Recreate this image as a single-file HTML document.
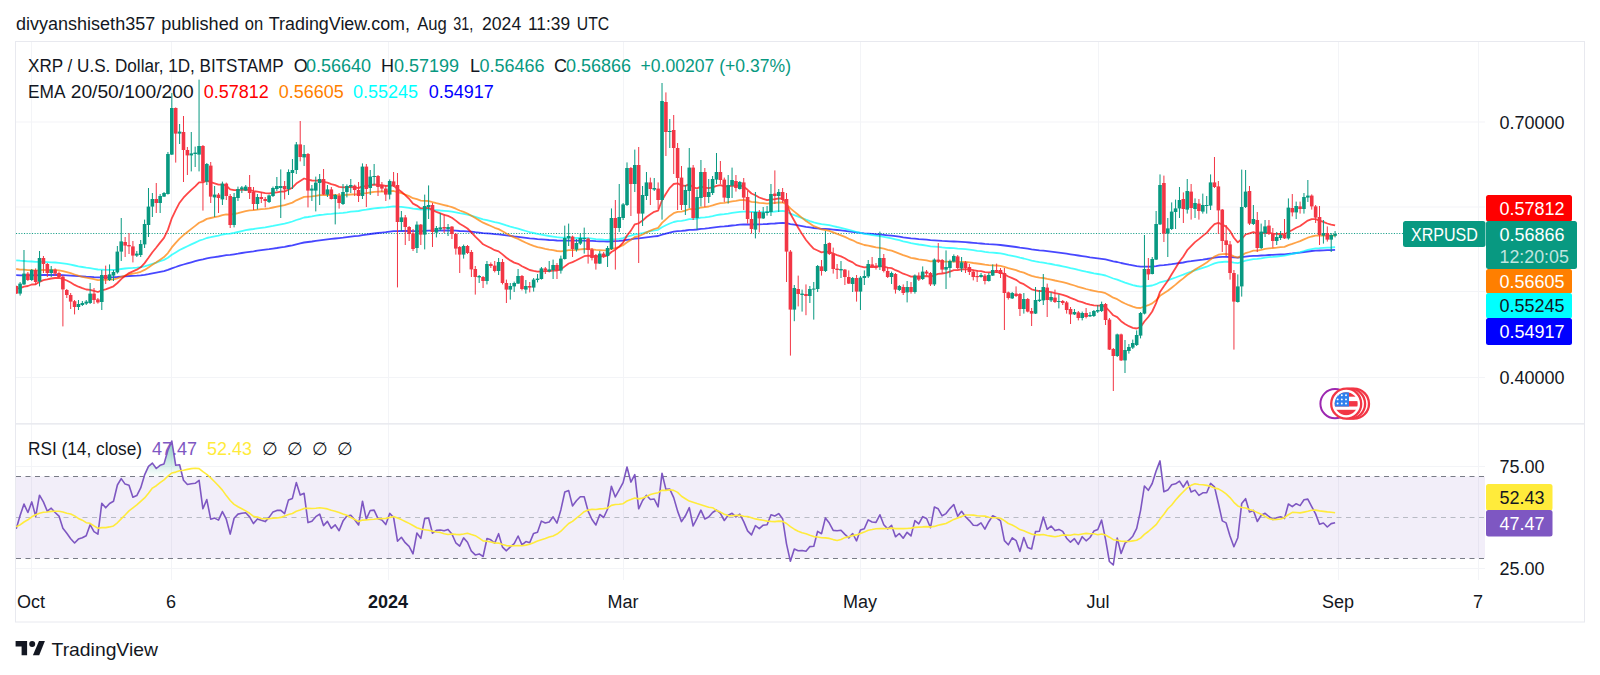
<!DOCTYPE html><html><head><meta charset="utf-8"><title>XRPUSD chart</title><style>html,body{margin:0;padding:0;background:#fff}svg{display:block}</style></head><body><svg width="1600" height="675" viewBox="0 0 1600 675" style="font-family:'Liberation Sans',Arial,sans-serif">
<rect width="1600" height="675" fill="#fff"/>
<defs><clipPath id="cp"><rect x="16" y="42" width="1469" height="382"/></clipPath><clipPath id="cr"><rect x="16" y="425" width="1469" height="155"/></clipPath><linearGradient id="ob" x1="0" y1="0" x2="0" y2="1"><stop offset="0" stop-color="#089981" stop-opacity="0.55"/><stop offset="1" stop-color="#089981" stop-opacity="0.02"/></linearGradient></defs>
<rect x="31.0" y="42" width="1" height="538" fill="#f3f4f7"/>
<rect x="171.0" y="42" width="1" height="538" fill="#f3f4f7"/>
<rect x="388.0" y="42" width="1" height="538" fill="#f3f4f7"/>
<rect x="623.0" y="42" width="1" height="538" fill="#f3f4f7"/>
<rect x="860.0" y="42" width="1" height="538" fill="#f3f4f7"/>
<rect x="1098.0" y="42" width="1" height="538" fill="#f3f4f7"/>
<rect x="1338.0" y="42" width="1" height="538" fill="#f3f4f7"/>
<rect x="1478.0" y="42" width="1" height="538" fill="#f3f4f7"/>
<rect x="16" y="121.5" width="1469" height="1" fill="#f3f4f7"/>
<rect x="16" y="206.5" width="1469" height="1" fill="#f3f4f7"/>
<rect x="16" y="291.0" width="1469" height="1" fill="#f3f4f7"/>
<rect x="16" y="377.0" width="1469" height="1" fill="#f3f4f7"/>
<rect x="16" y="466.0" width="1469" height="1" fill="#f3f4f7"/>
<rect x="16" y="568.0" width="1469" height="1" fill="#f3f4f7"/>
<rect x="16" y="476.5" width="1469" height="82" fill="#7e57c2" fill-opacity="0.1"/>
<line x1="16" y1="476.5" x2="1485" y2="476.5" stroke="#787b86" stroke-width="1" stroke-dasharray="5 4.5"/>
<line x1="16" y1="517.5" x2="1485" y2="517.5" stroke="#b8bbc4" stroke-width="1" stroke-dasharray="5 4.5"/>
<line x1="16" y1="558.5" x2="1485" y2="558.5" stroke="#787b86" stroke-width="1" stroke-dasharray="5 4.5"/>
<line x1="16" y1="233.5" x2="1485" y2="233.5" stroke="#089981" stroke-width="1" stroke-opacity="0.95" stroke-dasharray="1.1 1.56"/>
<g clip-path="url(#cp)">
<polyline points="16.2,275.2 20.1,275.3 24.0,275.3 27.9,275.3 31.8,275.2 35.7,275.3 39.5,275.1 43.4,275.0 47.3,275.0 51.2,275.0 55.1,274.9 59.0,275.0 62.9,275.1 66.8,275.3 70.7,275.6 74.6,275.9 78.4,276.2 82.3,276.4 86.2,276.7 90.1,276.8 94.0,277.1 97.9,277.3 101.8,277.3 105.7,277.3 109.6,277.3 113.5,277.2 117.4,277.0 121.2,276.6 125.1,276.3 129.0,276.0 132.9,275.8 136.8,275.6 140.7,275.3 144.6,274.8 148.5,274.1 152.4,273.3 156.3,272.6 160.1,271.9 164.0,271.1 167.9,269.9 171.8,268.3 175.7,267.0 179.6,265.6 183.5,264.5 187.4,263.4 191.3,262.3 195.2,261.2 199.1,260.1 202.9,259.3 206.8,258.3 210.7,257.7 214.6,257.1 218.5,256.5 222.4,255.8 226.3,255.2 230.2,254.9 234.1,254.3 238.0,253.7 241.8,253.0 245.7,252.3 249.6,251.8 253.5,251.3 257.4,250.7 261.3,250.2 265.2,249.7 269.1,249.2 273.0,248.6 276.9,248.0 280.8,247.3 284.6,246.8 288.5,246.0 292.4,245.3 296.3,244.3 300.2,243.4 304.1,242.5 308.0,242.0 311.9,241.5 315.8,240.9 319.7,240.3 323.5,239.8 327.4,239.3 331.3,238.9 335.2,238.5 339.1,238.1 343.0,237.7 346.9,237.1 350.8,236.6 354.7,236.2 358.6,235.8 362.5,235.1 366.3,234.6 370.2,234.0 374.1,233.5 378.0,233.0 381.9,232.6 385.8,232.2 389.7,231.7 393.6,231.2 397.5,231.1 401.4,231.0 405.2,230.9 409.1,231.0 413.0,231.2 416.9,231.1 420.8,231.1 424.7,230.9 428.6,230.6 432.5,230.6 436.4,230.6 440.3,230.6 444.2,230.5 448.0,230.5 451.9,230.5 455.8,230.7 459.7,231.0 463.6,231.1 467.5,231.3 471.4,231.7 475.3,232.2 479.2,232.6 483.1,233.1 487.0,233.4 490.8,233.7 494.7,234.1 498.6,234.4 502.5,234.8 506.4,235.4 510.3,235.9 514.2,236.4 518.1,236.8 522.0,237.3 525.9,237.8 529.7,238.3 533.6,238.7 537.5,239.1 541.4,239.4 545.3,239.7 549.2,240.0 553.1,240.2 557.0,240.5 560.9,240.7 564.8,240.7 568.7,240.6 572.5,240.7 576.4,240.7 580.3,240.7 584.2,240.7 588.1,240.8 592.0,240.9 595.9,241.2 599.8,241.3 603.7,241.4 607.6,241.5 611.4,241.3 615.3,241.1 619.2,240.9 623.1,240.5 627.0,239.8 630.9,239.3 634.8,238.5 638.7,238.3 642.6,237.8 646.5,237.3 650.4,236.8 654.2,236.3 658.1,236.0 662.0,234.6 665.9,233.6 669.8,232.6 673.7,231.7 677.6,231.2 681.5,230.9 685.4,230.5 689.3,229.9 693.1,229.8 697.0,229.5 700.9,228.9 704.8,228.6 708.7,228.2 712.6,227.7 716.5,227.2 720.4,226.7 724.3,226.4 728.2,226.0 732.1,225.5 735.9,225.2 739.8,224.7 743.7,224.5 747.6,224.4 751.5,224.5 755.4,224.3 759.3,224.3 763.2,224.2 767.1,224.0 771.0,223.7 774.8,223.5 778.7,223.1 782.6,222.9 786.5,223.2 790.4,224.1 794.3,224.7 798.2,225.4 802.1,226.1 806.0,226.8 809.9,227.4 813.8,228.0 817.6,228.4 821.5,228.8 825.4,228.9 829.3,229.2 833.2,229.6 837.1,230.0 841.0,230.4 844.9,230.8 848.8,231.4 852.7,231.8 856.5,232.4 860.4,232.9 864.3,233.3 868.2,233.6 872.1,233.9 876.0,234.3 879.9,234.5 883.8,234.9 887.7,235.3 891.6,235.7 895.5,236.2 899.3,236.7 903.2,237.3 907.1,237.8 911.0,238.3 914.9,238.7 918.8,239.1 922.7,239.4 926.6,239.7 930.5,240.2 934.4,240.4 938.2,240.6 942.1,240.9 946.0,241.1 949.9,241.3 953.8,241.5 957.7,241.7 961.6,241.9 965.5,242.2 969.4,242.5 973.3,242.8 977.2,243.2 981.0,243.5 984.9,243.9 988.8,244.2 992.7,244.4 996.6,244.7 1000.5,245.0 1004.4,245.5 1008.3,246.0 1012.2,246.5 1016.1,247.0 1019.9,247.6 1023.8,248.1 1027.7,248.7 1031.6,249.4 1035.5,249.9 1039.4,250.4 1043.3,250.7 1047.2,251.2 1051.1,251.7 1055.0,252.2 1058.9,252.7 1062.7,253.2 1066.6,253.7 1070.5,254.3 1074.4,254.9 1078.3,255.5 1082.2,256.1 1086.1,256.7 1090.0,257.3 1093.9,257.8 1097.8,258.3 1101.6,258.8 1105.5,259.4 1109.4,260.3 1113.3,261.3 1117.2,262.0 1121.1,263.0 1125.0,263.8 1128.9,264.7 1132.8,265.4 1136.7,266.1 1140.6,266.6 1144.4,266.6 1148.3,266.7 1152.2,266.6 1156.1,266.2 1160.0,265.4 1163.9,265.1 1167.8,264.7 1171.7,264.2 1175.6,263.6 1179.5,263.0 1183.3,262.5 1187.2,261.7 1191.1,261.2 1195.0,260.6 1198.9,260.1 1202.8,259.6 1206.7,259.0 1210.6,258.3 1214.5,257.6 1218.4,257.1 1222.3,256.9 1226.1,256.8 1230.0,257.0 1233.9,257.4 1237.8,257.7 1241.7,257.2 1245.6,256.6 1249.5,256.2 1253.4,255.9 1257.3,255.8 1261.2,255.5 1265.1,255.3 1268.9,255.0 1272.8,254.9 1276.7,254.7 1280.6,254.5 1284.5,254.4 1288.4,253.9 1292.3,253.5 1296.2,253.0 1300.1,252.6 1304.0,252.0 1307.8,251.5 1311.7,251.0 1315.6,250.7 1319.5,250.5 1323.4,250.4 1327.3,250.2 1331.2,250.1 1335.1,249.9" fill="none" stroke="#0000ff" stroke-opacity="0.72" stroke-width="1.8" stroke-linejoin="round"/>
<polyline points="16.2,260.3 20.1,260.7 24.0,261.0 27.9,261.4 31.8,261.5 35.7,261.9 39.5,261.9 43.4,261.9 47.3,262.1 51.2,262.3 55.1,262.5 59.0,262.8 62.9,263.3 66.8,263.9 70.7,264.7 74.6,265.5 78.4,266.3 82.3,267.0 86.2,267.7 90.1,268.2 94.0,268.8 97.9,269.5 101.8,269.6 105.7,269.8 109.6,269.9 113.5,269.9 117.4,269.6 121.2,269.0 125.1,268.5 129.0,268.1 132.9,267.9 136.8,267.6 140.7,267.1 144.6,266.3 148.5,265.1 152.4,263.8 156.3,262.6 160.1,261.2 164.0,259.9 167.9,257.8 171.8,254.8 175.7,252.4 179.6,250.0 183.5,248.1 187.4,246.2 191.3,244.4 195.2,242.6 199.1,240.7 202.9,239.5 206.8,238.0 210.7,237.2 214.6,236.3 218.5,235.6 222.4,234.5 226.3,233.8 230.2,233.6 234.1,232.9 238.0,232.0 241.8,231.1 245.7,230.2 249.6,229.5 253.5,229.0 257.4,228.4 261.3,227.8 265.2,227.3 269.1,226.6 273.0,225.9 276.9,225.1 280.8,224.3 284.6,223.6 288.5,222.6 292.4,221.5 296.3,220.0 300.2,218.8 304.1,217.5 308.0,217.0 311.9,216.4 315.8,215.7 319.7,215.0 323.5,214.6 327.4,214.1 331.3,213.8 335.2,213.4 339.1,213.2 343.0,212.8 346.9,212.3 350.8,211.7 354.7,211.3 358.6,211.0 362.5,210.1 366.3,209.7 370.2,209.0 374.1,208.4 378.0,208.0 381.9,207.6 385.8,207.3 389.7,206.8 393.6,206.4 397.5,206.7 401.4,206.9 405.2,207.3 409.1,207.8 413.0,208.7 416.9,209.0 420.8,209.5 424.7,209.4 428.6,209.3 432.5,209.8 436.4,210.1 440.3,210.5 444.2,210.8 448.0,211.1 451.9,211.6 455.8,212.3 459.7,213.2 463.6,213.8 467.5,214.6 471.4,215.7 475.3,216.9 479.2,218.1 483.1,219.3 487.0,220.2 490.8,221.1 494.7,222.1 498.6,222.9 502.5,224.1 506.4,225.4 510.3,226.6 514.2,227.7 518.1,228.6 522.0,229.8 525.9,231.0 529.7,232.1 533.6,233.0 537.5,233.9 541.4,234.6 545.3,235.3 549.2,236.0 553.1,236.6 557.0,237.2 560.9,237.7 564.8,237.7 568.7,237.6 572.5,237.9 576.4,238.0 580.3,238.0 584.2,238.0 588.1,238.2 592.0,238.6 595.9,239.1 599.8,239.4 603.7,239.7 607.6,239.9 611.4,239.4 615.3,239.2 619.2,238.8 623.1,238.1 627.0,236.7 630.9,235.7 634.8,234.3 638.7,233.9 642.6,233.1 646.5,232.1 650.4,231.2 654.2,230.4 658.1,229.8 662.0,227.2 665.9,225.3 669.8,223.5 673.7,222.0 677.6,221.1 681.5,220.8 685.4,220.2 689.3,219.1 693.1,219.1 697.0,218.7 700.9,217.7 704.8,217.3 708.7,216.8 712.6,216.1 716.5,215.2 720.4,214.5 724.3,214.2 728.2,213.6 732.1,212.9 735.9,212.4 739.8,211.8 743.7,211.6 747.6,211.7 751.5,212.0 755.4,212.0 759.3,212.2 763.2,212.2 767.1,212.2 771.0,211.8 774.8,211.5 778.7,211.1 782.6,210.9 786.5,211.7 790.4,213.6 794.3,215.1 798.2,216.7 802.1,218.2 806.0,219.7 809.9,221.1 813.8,222.4 817.6,223.3 821.5,224.2 825.4,224.6 829.3,225.2 833.2,226.1 837.1,227.0 841.0,227.8 844.9,228.8 848.8,229.8 852.7,230.8 856.5,232.0 860.4,232.9 864.3,233.8 868.2,234.4 872.1,235.0 876.0,235.7 879.9,236.1 883.8,236.8 887.7,237.6 891.6,238.3 895.5,239.3 899.3,240.2 903.2,241.3 907.1,242.2 911.0,243.2 914.9,243.8 918.8,244.5 922.7,245.0 926.6,245.6 930.5,246.4 934.4,246.6 938.2,246.9 942.1,247.4 946.0,247.8 949.9,248.0 953.8,248.2 957.7,248.6 961.6,248.9 965.5,249.2 969.4,249.7 973.3,250.2 977.2,250.8 981.0,251.2 984.9,251.8 988.8,252.3 992.7,252.6 996.6,253.0 1000.5,253.4 1004.4,254.2 1008.3,255.1 1012.2,255.8 1016.1,256.6 1019.9,257.7 1023.8,258.5 1027.7,259.5 1031.6,260.6 1035.5,261.4 1039.4,262.1 1043.3,262.6 1047.2,263.4 1051.1,264.0 1055.0,264.8 1058.9,265.5 1062.7,266.3 1066.6,267.1 1070.5,268.1 1074.4,268.9 1078.3,269.9 1082.2,270.8 1086.1,271.7 1090.0,272.5 1093.9,273.3 1097.8,274.0 1101.6,274.6 1105.5,275.5 1109.4,277.0 1113.3,278.5 1117.2,279.6 1121.1,281.2 1125.0,282.6 1128.9,283.9 1132.8,285.1 1136.7,286.0 1140.6,286.6 1144.4,286.2 1148.3,286.0 1152.2,285.5 1156.1,284.2 1160.0,282.3 1163.9,281.3 1167.8,280.3 1171.7,278.9 1175.6,277.5 1179.5,276.0 1183.3,274.6 1187.2,273.0 1191.1,271.7 1195.0,270.3 1198.9,269.2 1202.8,267.9 1206.7,266.7 1210.6,265.0 1214.5,263.4 1218.4,262.4 1222.3,262.0 1226.1,261.6 1230.0,261.9 1233.9,262.6 1237.8,263.1 1241.7,262.0 1245.6,260.6 1249.5,259.9 1253.4,259.1 1257.3,258.8 1261.2,258.3 1265.1,257.7 1268.9,257.2 1272.8,256.9 1276.7,256.5 1280.6,256.1 1284.5,255.7 1288.4,254.8 1292.3,253.9 1296.2,253.0 1300.1,252.1 1304.0,251.0 1307.8,249.9 1311.7,249.1 1315.6,248.4 1319.5,248.2 1323.4,247.9 1327.3,247.7 1331.2,247.5 1335.1,247.2" fill="none" stroke="#00ffff" stroke-opacity="0.72" stroke-width="1.8" stroke-linejoin="round"/>
<polyline points="16.2,269.0 20.1,269.6 24.0,269.7 27.9,270.1 31.8,270.1 35.7,270.6 39.5,270.1 43.4,269.9 47.3,270.0 51.2,270.0 55.1,270.1 59.0,270.4 62.9,271.1 66.8,272.1 70.7,273.2 74.6,274.5 78.4,275.7 82.3,276.8 86.2,277.7 90.1,278.4 94.0,279.2 97.9,280.1 101.8,279.9 105.7,279.9 109.6,279.7 113.5,279.4 117.4,278.3 121.2,276.8 125.1,275.6 129.0,274.5 132.9,273.7 136.8,272.9 140.7,271.8 144.6,269.9 148.5,267.4 152.4,264.8 156.3,262.3 160.1,259.7 164.0,257.1 167.9,253.1 171.8,247.4 175.7,242.9 179.6,238.6 183.5,235.1 187.4,232.0 191.3,228.9 195.2,225.9 199.1,222.8 202.9,221.1 206.8,218.9 210.7,218.0 214.6,217.1 218.5,216.4 222.4,215.1 226.3,214.3 230.2,214.7 234.1,214.0 238.0,213.1 241.8,212.1 245.7,211.1 249.6,210.4 253.5,210.1 257.4,209.6 261.3,209.2 265.2,208.9 269.1,208.3 273.0,207.5 276.9,206.7 280.8,205.9 284.6,205.2 288.5,203.9 292.4,202.6 296.3,200.3 300.2,198.6 304.1,196.9 308.0,196.6 311.9,196.3 315.8,195.8 319.7,195.1 323.5,195.1 327.4,194.9 331.3,195.0 335.2,195.0 339.1,195.3 343.0,195.2 346.9,194.8 350.8,194.5 354.7,194.3 358.6,194.4 362.5,193.3 366.3,193.1 370.2,192.5 374.1,191.8 378.0,191.6 381.9,191.5 385.8,191.6 389.7,191.2 393.6,191.0 397.5,192.2 401.4,193.2 405.2,194.5 409.1,196.1 413.0,198.2 416.9,199.2 420.8,200.6 424.7,200.8 428.6,201.0 432.5,202.2 436.4,203.2 440.3,204.1 444.2,205.1 448.0,206.0 451.9,207.1 455.8,208.7 459.7,210.5 463.6,211.9 467.5,213.5 471.4,215.7 475.3,218.1 479.2,220.4 483.1,222.7 487.0,224.4 490.8,226.0 494.7,227.8 498.6,229.1 502.5,231.2 506.4,233.5 510.3,235.6 514.2,237.4 518.1,238.9 522.0,240.9 525.9,242.7 529.7,244.4 533.6,245.8 537.5,247.1 541.4,247.9 545.3,248.8 549.2,249.6 553.1,250.2 557.0,251.0 560.9,251.3 564.8,250.8 568.7,250.2 572.5,250.2 576.4,249.9 580.3,249.4 584.2,249.0 588.1,249.0 592.0,249.4 595.9,249.9 599.8,250.1 603.7,250.3 607.6,250.2 611.4,249.0 615.3,248.1 619.2,246.9 623.1,245.2 627.0,242.2 630.9,239.9 634.8,237.0 638.7,236.1 642.6,234.5 646.5,232.4 650.4,230.7 654.2,229.0 658.1,227.9 662.0,222.9 665.9,219.4 669.8,215.9 673.7,213.2 677.6,211.9 681.5,211.6 685.4,210.7 689.3,209.0 693.1,209.4 697.0,208.9 700.9,207.5 704.8,207.1 708.7,206.5 712.6,205.4 716.5,204.1 720.4,203.1 724.3,202.9 728.2,202.2 732.1,201.3 735.9,200.8 739.8,200.1 743.7,200.0 747.6,200.7 751.5,201.8 755.4,202.2 759.3,202.9 763.2,203.2 767.1,203.6 771.0,203.2 774.8,202.9 778.7,202.5 782.6,202.4 786.5,204.3 790.4,208.4 794.3,211.6 798.2,214.8 802.1,217.9 806.0,221.0 809.9,223.6 813.8,226.2 817.6,227.7 821.5,229.4 825.4,230.0 829.3,230.9 833.2,232.4 837.1,233.9 841.0,235.3 844.9,236.9 848.8,238.8 852.7,240.3 856.5,242.3 860.4,243.7 864.3,245.0 868.2,245.7 872.1,246.5 876.0,247.4 879.9,247.8 883.8,248.7 887.7,249.8 891.6,250.7 895.5,252.2 899.3,253.6 903.2,255.1 907.1,256.4 911.0,257.8 914.9,258.5 918.8,259.3 922.7,259.8 926.6,260.3 930.5,261.3 934.4,261.2 938.2,261.2 942.1,261.5 946.0,261.7 949.9,261.7 953.8,261.5 957.7,261.7 961.6,261.8 965.5,262.0 969.4,262.4 973.3,263.0 977.2,263.5 981.0,264.0 984.9,264.7 988.8,265.1 992.7,265.3 996.6,265.5 1000.5,265.8 1004.4,266.9 1008.3,268.1 1012.2,269.1 1016.1,270.2 1019.9,271.7 1023.8,272.7 1027.7,274.3 1031.6,275.8 1035.5,276.8 1039.4,277.7 1043.3,278.0 1047.2,278.9 1051.1,279.6 1055.0,280.5 1058.9,281.3 1062.7,282.1 1066.6,283.2 1070.5,284.4 1074.4,285.5 1078.3,286.8 1082.2,287.8 1086.1,289.0 1090.0,290.0 1093.9,290.8 1097.8,291.6 1101.6,292.1 1105.5,293.2 1109.4,295.4 1113.3,297.7 1117.2,299.2 1121.1,301.6 1125.0,303.5 1128.9,305.2 1132.8,306.7 1136.7,307.8 1140.6,308.0 1144.4,306.5 1148.3,305.2 1152.2,303.4 1156.1,300.3 1160.0,295.8 1163.9,293.3 1167.8,290.8 1171.7,287.7 1175.6,284.6 1179.5,281.2 1183.3,278.4 1187.2,275.0 1191.1,272.4 1195.0,269.6 1198.9,267.3 1202.8,264.9 1206.7,262.5 1210.6,259.4 1214.5,256.6 1218.4,254.7 1222.3,254.2 1226.1,253.8 1230.0,254.6 1233.9,256.4 1237.8,257.6 1241.7,255.6 1245.6,253.1 1249.5,252.0 1253.4,250.7 1257.3,250.6 1261.2,249.8 1265.1,248.9 1268.9,248.3 1272.8,248.0 1276.7,247.6 1280.6,247.1 1284.5,246.8 1288.4,245.2 1292.3,243.9 1296.2,242.5 1300.1,241.1 1304.0,239.4 1307.8,237.7 1311.7,236.5 1315.6,235.7 1319.5,235.7 1323.4,235.6 1327.3,235.7 1331.2,235.7 1335.1,235.6" fill="none" stroke="#ff7f00" stroke-opacity="0.72" stroke-width="1.8" stroke-linejoin="round"/>
<polyline points="16.2,288.5 20.1,288.1 24.0,286.7 27.9,286.0 31.8,284.5 35.7,284.3 39.5,281.8 43.4,280.1 47.3,279.4 51.2,278.5 55.1,278.0 59.0,277.9 62.9,279.0 66.8,280.5 70.7,282.5 74.6,284.9 78.4,286.7 82.3,288.2 86.2,289.5 90.1,289.9 94.0,290.9 97.9,292.0 101.8,290.3 105.7,289.3 109.6,287.9 113.5,286.3 117.4,283.0 121.2,279.1 125.1,275.9 129.0,273.1 132.9,271.4 136.8,269.7 140.7,267.3 144.6,263.1 148.5,257.8 152.4,252.2 156.3,247.5 160.1,242.6 164.0,237.9 167.9,229.9 171.8,218.3 175.7,210.2 179.6,202.7 183.5,197.7 187.4,193.7 191.3,189.8 195.2,186.3 199.1,182.4 202.9,182.4 206.8,180.6 210.7,182.1 214.6,183.3 218.5,184.7 222.4,184.6 226.3,185.7 230.2,189.4 234.1,190.2 238.0,190.1 241.8,189.8 245.7,189.5 249.6,189.8 253.5,191.2 257.4,191.7 261.3,192.4 265.2,193.2 269.1,193.4 273.0,192.9 276.9,192.3 280.8,191.7 284.6,191.5 288.5,189.6 292.4,187.7 296.3,183.6 300.2,181.1 304.1,178.5 308.0,179.6 311.9,180.5 315.8,180.7 319.7,180.5 323.5,181.9 327.4,182.6 331.3,184.2 335.2,185.2 339.1,186.9 343.0,187.4 346.9,187.2 350.8,187.0 354.7,187.3 358.6,188.1 362.5,186.1 366.3,186.4 370.2,185.4 374.1,184.5 378.0,184.8 381.9,185.1 385.8,186.0 389.7,185.6 393.6,185.6 397.5,189.1 401.4,191.8 405.2,195.1 409.1,198.8 413.0,203.6 416.9,205.6 420.8,208.4 424.7,208.1 428.6,207.8 432.5,210.1 436.4,211.8 440.3,213.3 444.2,214.8 448.0,215.9 451.9,217.7 455.8,220.6 459.7,223.8 463.6,226.0 467.5,228.5 471.4,232.4 475.3,236.7 479.2,240.4 483.1,244.3 487.0,246.2 490.8,248.0 494.7,250.2 498.6,251.4 502.5,254.4 506.4,257.7 510.3,260.4 514.2,262.6 518.1,263.8 522.0,266.2 525.9,268.1 529.7,270.0 533.6,270.9 537.5,271.6 541.4,271.3 545.3,271.2 549.2,271.1 553.1,270.5 557.0,270.5 560.9,269.4 564.8,266.4 568.7,263.5 572.5,262.1 576.4,260.3 580.3,258.2 584.2,256.2 588.1,255.6 592.0,255.9 595.9,256.6 599.8,256.3 603.7,256.3 607.6,255.5 611.4,252.0 615.3,249.7 619.2,246.6 623.1,242.6 627.0,235.5 630.9,230.6 634.8,224.3 638.7,223.3 642.6,220.6 646.5,217.0 650.4,214.3 654.2,211.8 658.1,210.7 662.0,200.2 665.9,193.7 669.8,187.8 673.7,184.0 677.6,183.4 681.5,185.5 685.4,185.9 689.3,184.1 693.1,187.4 697.0,188.3 700.9,186.7 704.8,187.7 708.7,188.1 712.6,187.3 716.5,185.8 720.4,185.2 724.3,186.4 728.2,186.3 732.1,185.7 735.9,185.9 739.8,185.5 743.7,186.7 747.6,189.8 751.5,193.5 755.4,195.3 759.3,197.5 763.2,198.9 767.1,200.1 771.0,199.5 774.8,199.2 778.7,198.5 782.6,198.6 786.5,203.7 790.4,213.8 794.3,220.8 798.2,227.8 802.1,234.1 806.0,240.0 809.9,244.6 813.8,248.8 817.6,250.5 821.5,252.4 825.4,251.6 829.3,251.8 833.2,253.5 837.1,255.1 841.0,256.4 844.9,258.3 848.8,260.7 852.7,262.4 856.5,265.2 860.4,266.4 864.3,267.3 868.2,267.0 872.1,267.0 876.0,267.0 879.9,266.2 883.8,266.6 887.7,267.6 891.6,268.1 895.5,270.2 899.3,271.7 903.2,273.7 907.1,275.0 911.0,276.6 914.9,276.5 918.8,276.8 922.7,276.3 926.6,276.0 930.5,276.8 934.4,275.2 938.2,273.9 942.1,273.5 946.0,272.9 949.9,271.7 953.8,270.2 957.7,270.0 961.6,269.3 965.5,269.2 969.4,269.4 973.3,270.2 977.2,270.8 981.0,271.2 984.9,272.2 988.8,272.4 992.7,272.2 996.6,272.1 1000.5,272.3 1004.4,274.3 1008.3,276.5 1012.2,278.1 1016.1,279.8 1019.9,282.6 1023.8,284.2 1027.7,286.8 1031.6,289.3 1035.5,290.3 1039.4,291.2 1043.3,290.8 1047.2,291.7 1051.1,292.2 1055.0,293.1 1058.9,293.9 1062.7,294.8 1066.6,296.2 1070.5,297.9 1074.4,299.3 1078.3,301.1 1082.2,302.2 1086.1,303.6 1090.0,304.7 1093.9,305.3 1097.8,305.7 1101.6,305.6 1105.5,306.9 1109.4,311.0 1113.3,315.3 1117.2,317.1 1121.1,321.2 1125.0,324.0 1128.9,326.2 1132.8,327.8 1136.7,328.5 1140.6,327.0 1144.4,321.5 1148.3,317.0 1152.2,311.5 1156.1,303.1 1160.0,291.9 1163.9,286.3 1167.8,280.8 1171.7,274.2 1175.6,268.0 1179.5,261.5 1183.3,256.5 1187.2,250.2 1191.1,246.2 1195.0,242.1 1198.9,239.1 1202.8,235.9 1206.7,232.9 1210.6,228.1 1214.5,224.2 1218.4,222.9 1222.3,224.6 1226.1,226.6 1230.0,231.0 1233.9,237.7 1237.8,242.4 1241.7,239.0 1245.6,234.5 1249.5,233.4 1253.4,232.1 1257.3,233.6 1261.2,233.4 1265.1,232.7 1268.9,232.8 1272.8,233.6 1276.7,233.9 1280.6,234.0 1284.5,234.5 1288.4,231.9 1292.3,230.0 1296.2,227.8 1300.1,226.0 1304.0,223.2 1307.8,220.6 1311.7,219.2 1315.6,219.1 1319.5,220.6 1323.4,221.8 1327.3,223.5 1331.2,224.6 1335.1,225.4" fill="none" stroke="#ff0000" stroke-opacity="0.72" stroke-width="1.8" stroke-linejoin="round"/>
<rect x="15.70" y="285.6" width="1" height="8.4" fill="#f23645"/>
<rect x="14.40" y="286.0" width="3.6" height="7.6" fill="#f23645"/>
<rect x="19.59" y="282.0" width="1" height="13.6" fill="#089981"/>
<rect x="18.29" y="283.6" width="3.6" height="10.0" fill="#089981"/>
<rect x="23.48" y="250.0" width="1" height="35.0" fill="#089981"/>
<rect x="22.18" y="273.6" width="3.6" height="10.8" fill="#089981"/>
<rect x="27.37" y="272.0" width="1" height="9.0" fill="#f23645"/>
<rect x="26.07" y="273.6" width="3.6" height="6.4" fill="#f23645"/>
<rect x="31.26" y="269.0" width="1" height="12.0" fill="#089981"/>
<rect x="29.96" y="270.0" width="3.6" height="10.0" fill="#089981"/>
<rect x="35.15" y="268.4" width="1" height="16.6" fill="#f23645"/>
<rect x="33.85" y="270.0" width="3.6" height="12.0" fill="#f23645"/>
<rect x="39.04" y="251.0" width="1" height="35.4" fill="#089981"/>
<rect x="37.74" y="258.0" width="3.6" height="23.6" fill="#089981"/>
<rect x="42.93" y="256.0" width="1" height="17.0" fill="#f23645"/>
<rect x="41.63" y="258.0" width="3.6" height="6.0" fill="#f23645"/>
<rect x="46.82" y="263.0" width="1" height="14.0" fill="#f23645"/>
<rect x="45.52" y="264.0" width="3.6" height="9.0" fill="#f23645"/>
<rect x="50.71" y="266.0" width="1" height="11.0" fill="#089981"/>
<rect x="49.41" y="269.6" width="3.6" height="3.4" fill="#089981"/>
<rect x="54.61" y="268.4" width="1" height="7.6" fill="#f23645"/>
<rect x="53.31" y="269.6" width="3.6" height="4.0" fill="#f23645"/>
<rect x="58.50" y="271.6" width="1" height="6.4" fill="#f23645"/>
<rect x="57.20" y="273.0" width="3.6" height="4.0" fill="#f23645"/>
<rect x="62.39" y="275.0" width="1" height="51.4" fill="#f23645"/>
<rect x="61.09" y="276.6" width="3.6" height="12.8" fill="#f23645"/>
<rect x="66.28" y="289.0" width="1" height="9.0" fill="#f23645"/>
<rect x="64.98" y="290.0" width="3.6" height="5.0" fill="#f23645"/>
<rect x="70.17" y="293.0" width="1" height="16.0" fill="#f23645"/>
<rect x="68.87" y="295.0" width="3.6" height="6.6" fill="#f23645"/>
<rect x="74.06" y="300.0" width="1" height="14.4" fill="#f23645"/>
<rect x="72.76" y="301.2" width="3.6" height="5.8" fill="#f23645"/>
<rect x="77.95" y="300.0" width="1" height="10.0" fill="#089981"/>
<rect x="76.65" y="304.0" width="3.6" height="3.0" fill="#089981"/>
<rect x="81.84" y="301.0" width="1" height="5.0" fill="#089981"/>
<rect x="80.54" y="303.0" width="3.6" height="2.0" fill="#089981"/>
<rect x="85.73" y="300.0" width="1" height="5.0" fill="#089981"/>
<rect x="84.43" y="301.6" width="3.6" height="2.0" fill="#089981"/>
<rect x="89.62" y="283.0" width="1" height="21.0" fill="#089981"/>
<rect x="88.32" y="293.6" width="3.6" height="9.4" fill="#089981"/>
<rect x="93.51" y="288.0" width="1" height="16.0" fill="#f23645"/>
<rect x="92.21" y="293.6" width="3.6" height="6.4" fill="#f23645"/>
<rect x="97.40" y="298.0" width="1" height="5.6" fill="#f23645"/>
<rect x="96.10" y="299.4" width="3.6" height="3.0" fill="#f23645"/>
<rect x="101.29" y="270.0" width="1" height="40.0" fill="#089981"/>
<rect x="99.99" y="275.0" width="3.6" height="27.0" fill="#089981"/>
<rect x="105.18" y="265.6" width="1" height="18.4" fill="#f23645"/>
<rect x="103.88" y="275.0" width="3.6" height="4.0" fill="#f23645"/>
<rect x="109.07" y="264.4" width="1" height="16.6" fill="#089981"/>
<rect x="107.77" y="274.4" width="3.6" height="5.6" fill="#089981"/>
<rect x="112.96" y="270.0" width="1" height="11.0" fill="#089981"/>
<rect x="111.66" y="272.0" width="3.6" height="3.6" fill="#089981"/>
<rect x="116.85" y="246.0" width="1" height="27.6" fill="#089981"/>
<rect x="115.55" y="251.6" width="3.6" height="20.8" fill="#089981"/>
<rect x="120.74" y="218.0" width="1" height="43.0" fill="#089981"/>
<rect x="119.44" y="241.4" width="3.6" height="10.2" fill="#089981"/>
<rect x="124.63" y="237.0" width="1" height="20.0" fill="#f23645"/>
<rect x="123.33" y="242.0" width="3.6" height="3.6" fill="#f23645"/>
<rect x="128.52" y="233.0" width="1" height="21.0" fill="#f23645"/>
<rect x="127.22" y="245.0" width="3.6" height="1.4" fill="#f23645"/>
<rect x="132.41" y="241.0" width="1" height="21.4" fill="#f23645"/>
<rect x="131.11" y="246.4" width="3.6" height="9.2" fill="#f23645"/>
<rect x="136.31" y="251.0" width="1" height="6.0" fill="#089981"/>
<rect x="135.01" y="253.6" width="3.6" height="2.0" fill="#089981"/>
<rect x="140.20" y="240.0" width="1" height="17.0" fill="#089981"/>
<rect x="138.90" y="244.0" width="3.6" height="11.0" fill="#089981"/>
<rect x="144.09" y="219.6" width="1" height="28.4" fill="#089981"/>
<rect x="142.79" y="224.0" width="3.6" height="20.4" fill="#089981"/>
<rect x="147.98" y="188.0" width="1" height="49.0" fill="#089981"/>
<rect x="146.68" y="206.6" width="3.6" height="18.4" fill="#089981"/>
<rect x="151.87" y="193.0" width="1" height="24.0" fill="#089981"/>
<rect x="150.57" y="199.0" width="3.6" height="7.6" fill="#089981"/>
<rect x="155.76" y="183.0" width="1" height="30.0" fill="#f23645"/>
<rect x="154.46" y="199.0" width="3.6" height="4.0" fill="#f23645"/>
<rect x="159.65" y="194.0" width="1" height="19.0" fill="#089981"/>
<rect x="158.35" y="196.0" width="3.6" height="7.0" fill="#089981"/>
<rect x="163.54" y="192.0" width="1" height="5.0" fill="#089981"/>
<rect x="162.24" y="193.0" width="3.6" height="3.6" fill="#089981"/>
<rect x="167.43" y="152.0" width="1" height="42.6" fill="#089981"/>
<rect x="166.13" y="154.0" width="3.6" height="40.0" fill="#089981"/>
<rect x="171.32" y="93.0" width="1" height="62.0" fill="#089981"/>
<rect x="170.02" y="108.0" width="3.6" height="46.6" fill="#089981"/>
<rect x="175.21" y="107.4" width="1" height="55.2" fill="#f23645"/>
<rect x="173.91" y="108.0" width="3.6" height="25.6" fill="#f23645"/>
<rect x="179.10" y="124.0" width="1" height="20.0" fill="#089981"/>
<rect x="177.80" y="131.6" width="3.6" height="2.0" fill="#089981"/>
<rect x="182.99" y="116.0" width="1" height="66.0" fill="#f23645"/>
<rect x="181.69" y="132.0" width="3.6" height="18.0" fill="#f23645"/>
<rect x="186.88" y="147.0" width="1" height="28.0" fill="#f23645"/>
<rect x="185.58" y="150.0" width="3.6" height="5.4" fill="#f23645"/>
<rect x="190.77" y="132.0" width="1" height="39.4" fill="#089981"/>
<rect x="189.47" y="153.4" width="3.6" height="2.0" fill="#089981"/>
<rect x="194.66" y="146.6" width="1" height="20.4" fill="#089981"/>
<rect x="193.36" y="152.6" width="3.6" height="1.4" fill="#089981"/>
<rect x="198.55" y="79.6" width="1" height="91.8" fill="#089981"/>
<rect x="197.25" y="146.0" width="3.6" height="8.6" fill="#089981"/>
<rect x="202.44" y="145.0" width="1" height="65.6" fill="#f23645"/>
<rect x="201.14" y="146.0" width="3.6" height="35.6" fill="#f23645"/>
<rect x="206.33" y="163.0" width="1" height="22.0" fill="#089981"/>
<rect x="205.03" y="164.0" width="3.6" height="17.6" fill="#089981"/>
<rect x="210.22" y="162.0" width="1" height="41.0" fill="#f23645"/>
<rect x="208.92" y="165.6" width="3.6" height="31.0" fill="#f23645"/>
<rect x="214.12" y="186.0" width="1" height="31.0" fill="#089981"/>
<rect x="212.82" y="194.6" width="3.6" height="2.8" fill="#089981"/>
<rect x="218.01" y="193.0" width="1" height="20.0" fill="#f23645"/>
<rect x="216.71" y="194.6" width="3.6" height="3.4" fill="#f23645"/>
<rect x="221.90" y="181.6" width="1" height="23.4" fill="#089981"/>
<rect x="220.60" y="183.6" width="3.6" height="15.8" fill="#089981"/>
<rect x="225.79" y="182.6" width="1" height="17.4" fill="#f23645"/>
<rect x="224.49" y="183.6" width="3.6" height="12.4" fill="#f23645"/>
<rect x="229.68" y="194.0" width="1" height="34.0" fill="#f23645"/>
<rect x="228.38" y="196.0" width="3.6" height="29.0" fill="#f23645"/>
<rect x="233.57" y="193.0" width="1" height="34.4" fill="#089981"/>
<rect x="232.27" y="197.0" width="3.6" height="28.0" fill="#089981"/>
<rect x="237.46" y="186.6" width="1" height="14.4" fill="#089981"/>
<rect x="236.16" y="189.0" width="3.6" height="9.0" fill="#089981"/>
<rect x="241.35" y="186.0" width="1" height="7.0" fill="#089981"/>
<rect x="240.05" y="187.4" width="3.6" height="2.0" fill="#089981"/>
<rect x="245.24" y="185.0" width="1" height="6.0" fill="#089981"/>
<rect x="243.94" y="186.6" width="3.6" height="4.0" fill="#089981"/>
<rect x="249.13" y="175.0" width="1" height="24.0" fill="#f23645"/>
<rect x="247.83" y="187.0" width="3.6" height="6.0" fill="#f23645"/>
<rect x="253.02" y="187.0" width="1" height="23.0" fill="#f23645"/>
<rect x="251.72" y="192.0" width="3.6" height="12.0" fill="#f23645"/>
<rect x="256.91" y="194.0" width="1" height="15.4" fill="#089981"/>
<rect x="255.61" y="197.0" width="3.6" height="7.0" fill="#089981"/>
<rect x="260.80" y="192.0" width="1" height="11.0" fill="#f23645"/>
<rect x="259.50" y="197.0" width="3.6" height="2.0" fill="#f23645"/>
<rect x="264.69" y="197.0" width="1" height="10.4" fill="#f23645"/>
<rect x="263.39" y="199.0" width="3.6" height="2.0" fill="#f23645"/>
<rect x="268.58" y="194.6" width="1" height="8.4" fill="#089981"/>
<rect x="267.28" y="195.4" width="3.6" height="6.6" fill="#089981"/>
<rect x="272.47" y="186.6" width="1" height="10.4" fill="#089981"/>
<rect x="271.17" y="188.0" width="3.6" height="8.0" fill="#089981"/>
<rect x="276.36" y="177.0" width="1" height="14.0" fill="#089981"/>
<rect x="275.06" y="186.0" width="3.6" height="3.0" fill="#089981"/>
<rect x="280.25" y="169.4" width="1" height="48.6" fill="#089981"/>
<rect x="278.95" y="186.0" width="3.6" height="2.0" fill="#089981"/>
<rect x="284.14" y="181.0" width="1" height="18.4" fill="#f23645"/>
<rect x="282.84" y="186.0" width="3.6" height="3.4" fill="#f23645"/>
<rect x="288.03" y="169.4" width="1" height="25.6" fill="#089981"/>
<rect x="286.73" y="172.0" width="3.6" height="17.0" fill="#089981"/>
<rect x="291.93" y="159.0" width="1" height="30.0" fill="#089981"/>
<rect x="290.63" y="170.0" width="3.6" height="3.0" fill="#089981"/>
<rect x="295.82" y="142.0" width="1" height="32.0" fill="#089981"/>
<rect x="294.52" y="144.4" width="3.6" height="25.6" fill="#089981"/>
<rect x="299.71" y="121.0" width="1" height="40.4" fill="#f23645"/>
<rect x="298.41" y="144.4" width="3.6" height="12.6" fill="#f23645"/>
<rect x="303.60" y="145.0" width="1" height="21.0" fill="#089981"/>
<rect x="302.30" y="154.0" width="3.6" height="3.4" fill="#089981"/>
<rect x="307.49" y="153.0" width="1" height="54.4" fill="#f23645"/>
<rect x="306.19" y="154.0" width="3.6" height="36.6" fill="#f23645"/>
<rect x="311.38" y="185.0" width="1" height="16.0" fill="#089981"/>
<rect x="310.08" y="188.6" width="3.6" height="2.0" fill="#089981"/>
<rect x="315.27" y="176.6" width="1" height="34.8" fill="#089981"/>
<rect x="313.97" y="182.6" width="3.6" height="8.0" fill="#089981"/>
<rect x="319.16" y="174.0" width="1" height="31.0" fill="#089981"/>
<rect x="317.86" y="179.0" width="3.6" height="4.0" fill="#089981"/>
<rect x="323.05" y="169.0" width="1" height="26.0" fill="#f23645"/>
<rect x="321.75" y="179.0" width="3.6" height="15.6" fill="#f23645"/>
<rect x="326.94" y="185.0" width="1" height="12.0" fill="#089981"/>
<rect x="325.64" y="189.4" width="3.6" height="5.2" fill="#089981"/>
<rect x="330.83" y="187.0" width="1" height="12.4" fill="#f23645"/>
<rect x="329.53" y="189.4" width="3.6" height="9.6" fill="#f23645"/>
<rect x="334.72" y="194.0" width="1" height="30.4" fill="#089981"/>
<rect x="333.42" y="195.0" width="3.6" height="4.0" fill="#089981"/>
<rect x="338.61" y="193.0" width="1" height="15.6" fill="#f23645"/>
<rect x="337.31" y="196.0" width="3.6" height="7.0" fill="#f23645"/>
<rect x="342.50" y="184.0" width="1" height="21.0" fill="#089981"/>
<rect x="341.20" y="192.0" width="3.6" height="12.0" fill="#089981"/>
<rect x="346.39" y="184.4" width="1" height="13.0" fill="#089981"/>
<rect x="345.09" y="186.0" width="3.6" height="6.0" fill="#089981"/>
<rect x="350.28" y="179.0" width="1" height="14.0" fill="#089981"/>
<rect x="348.98" y="185.0" width="3.6" height="1.6" fill="#089981"/>
<rect x="354.17" y="184.6" width="1" height="11.4" fill="#f23645"/>
<rect x="352.87" y="185.6" width="3.6" height="4.4" fill="#f23645"/>
<rect x="358.06" y="182.0" width="1" height="20.0" fill="#f23645"/>
<rect x="356.76" y="190.0" width="3.6" height="6.0" fill="#f23645"/>
<rect x="361.95" y="163.4" width="1" height="35.6" fill="#089981"/>
<rect x="360.65" y="166.6" width="3.6" height="29.4" fill="#089981"/>
<rect x="365.84" y="164.0" width="1" height="43.0" fill="#f23645"/>
<rect x="364.54" y="166.6" width="3.6" height="22.4" fill="#f23645"/>
<rect x="369.74" y="170.0" width="1" height="25.0" fill="#089981"/>
<rect x="368.44" y="176.6" width="3.6" height="11.4" fill="#089981"/>
<rect x="373.63" y="164.0" width="1" height="21.0" fill="#089981"/>
<rect x="372.33" y="176.0" width="3.6" height="1.0" fill="#089981"/>
<rect x="377.52" y="175.0" width="1" height="21.0" fill="#f23645"/>
<rect x="376.22" y="176.0" width="3.6" height="11.0" fill="#f23645"/>
<rect x="381.41" y="182.0" width="1" height="10.0" fill="#f23645"/>
<rect x="380.11" y="185.0" width="3.6" height="3.6" fill="#f23645"/>
<rect x="385.30" y="185.0" width="1" height="16.0" fill="#f23645"/>
<rect x="384.00" y="188.6" width="3.6" height="6.0" fill="#f23645"/>
<rect x="389.19" y="179.4" width="1" height="20.0" fill="#089981"/>
<rect x="387.89" y="181.0" width="3.6" height="13.6" fill="#089981"/>
<rect x="393.08" y="172.0" width="1" height="15.0" fill="#f23645"/>
<rect x="391.78" y="181.4" width="3.6" height="4.6" fill="#f23645"/>
<rect x="396.97" y="173.0" width="1" height="114.4" fill="#f23645"/>
<rect x="395.67" y="185.0" width="3.6" height="37.0" fill="#f23645"/>
<rect x="400.86" y="211.0" width="1" height="20.0" fill="#089981"/>
<rect x="399.56" y="217.4" width="3.6" height="4.6" fill="#089981"/>
<rect x="404.75" y="215.0" width="1" height="30.0" fill="#f23645"/>
<rect x="403.45" y="217.4" width="3.6" height="9.6" fill="#f23645"/>
<rect x="408.64" y="226.0" width="1" height="15.0" fill="#f23645"/>
<rect x="407.34" y="227.0" width="3.6" height="7.0" fill="#f23645"/>
<rect x="412.53" y="229.0" width="1" height="22.0" fill="#f23645"/>
<rect x="411.23" y="233.4" width="3.6" height="15.6" fill="#f23645"/>
<rect x="416.42" y="221.4" width="1" height="31.6" fill="#089981"/>
<rect x="415.12" y="224.6" width="3.6" height="23.4" fill="#089981"/>
<rect x="420.31" y="224.0" width="1" height="21.0" fill="#f23645"/>
<rect x="419.01" y="224.6" width="3.6" height="10.0" fill="#f23645"/>
<rect x="424.20" y="194.6" width="1" height="54.8" fill="#089981"/>
<rect x="422.90" y="206.0" width="3.6" height="28.6" fill="#089981"/>
<rect x="428.09" y="185.4" width="1" height="33.6" fill="#089981"/>
<rect x="426.79" y="205.0" width="3.6" height="2.0" fill="#089981"/>
<rect x="431.98" y="203.0" width="1" height="44.0" fill="#f23645"/>
<rect x="430.68" y="205.0" width="3.6" height="27.0" fill="#f23645"/>
<rect x="435.87" y="226.0" width="1" height="11.4" fill="#089981"/>
<rect x="434.57" y="228.0" width="3.6" height="4.6" fill="#089981"/>
<rect x="439.76" y="213.0" width="1" height="18.0" fill="#089981"/>
<rect x="438.46" y="227.4" width="3.6" height="2.0" fill="#089981"/>
<rect x="443.65" y="214.0" width="1" height="19.0" fill="#f23645"/>
<rect x="442.35" y="227.0" width="3.6" height="1.6" fill="#f23645"/>
<rect x="447.55" y="224.0" width="1" height="12.0" fill="#089981"/>
<rect x="446.25" y="227.0" width="3.6" height="2.0" fill="#089981"/>
<rect x="451.44" y="226.0" width="1" height="13.0" fill="#f23645"/>
<rect x="450.14" y="226.6" width="3.6" height="7.4" fill="#f23645"/>
<rect x="455.33" y="233.0" width="1" height="21.6" fill="#f23645"/>
<rect x="454.03" y="234.0" width="3.6" height="14.6" fill="#f23645"/>
<rect x="459.22" y="246.0" width="1" height="27.0" fill="#f23645"/>
<rect x="457.92" y="247.0" width="3.6" height="7.6" fill="#f23645"/>
<rect x="463.11" y="244.6" width="1" height="14.0" fill="#089981"/>
<rect x="461.81" y="246.0" width="3.6" height="8.6" fill="#089981"/>
<rect x="467.00" y="245.0" width="1" height="9.0" fill="#f23645"/>
<rect x="465.70" y="246.0" width="3.6" height="7.0" fill="#f23645"/>
<rect x="470.89" y="250.0" width="1" height="27.0" fill="#f23645"/>
<rect x="469.59" y="252.0" width="3.6" height="17.4" fill="#f23645"/>
<rect x="474.78" y="266.0" width="1" height="28.6" fill="#f23645"/>
<rect x="473.48" y="269.0" width="3.6" height="8.0" fill="#f23645"/>
<rect x="478.67" y="275.0" width="1" height="8.0" fill="#089981"/>
<rect x="477.37" y="276.0" width="3.6" height="1.4" fill="#089981"/>
<rect x="482.56" y="276.0" width="1" height="12.0" fill="#f23645"/>
<rect x="481.26" y="277.0" width="3.6" height="4.0" fill="#f23645"/>
<rect x="486.45" y="261.0" width="1" height="23.4" fill="#089981"/>
<rect x="485.15" y="264.0" width="3.6" height="17.0" fill="#089981"/>
<rect x="490.34" y="262.4" width="1" height="5.6" fill="#f23645"/>
<rect x="489.04" y="264.0" width="3.6" height="2.0" fill="#f23645"/>
<rect x="494.23" y="261.0" width="1" height="11.4" fill="#f23645"/>
<rect x="492.93" y="265.6" width="3.6" height="5.4" fill="#f23645"/>
<rect x="498.12" y="258.0" width="1" height="17.0" fill="#089981"/>
<rect x="496.82" y="262.0" width="3.6" height="9.0" fill="#089981"/>
<rect x="502.01" y="259.0" width="1" height="25.4" fill="#f23645"/>
<rect x="500.71" y="262.0" width="3.6" height="21.0" fill="#f23645"/>
<rect x="505.90" y="279.6" width="1" height="23.4" fill="#f23645"/>
<rect x="504.60" y="283.0" width="3.6" height="6.6" fill="#f23645"/>
<rect x="509.79" y="283.0" width="1" height="16.6" fill="#089981"/>
<rect x="508.49" y="286.0" width="3.6" height="3.6" fill="#089981"/>
<rect x="513.68" y="281.6" width="1" height="10.4" fill="#089981"/>
<rect x="512.38" y="283.0" width="3.6" height="3.4" fill="#089981"/>
<rect x="517.57" y="269.0" width="1" height="15.0" fill="#089981"/>
<rect x="516.27" y="276.0" width="3.6" height="7.6" fill="#089981"/>
<rect x="521.47" y="275.0" width="1" height="15.4" fill="#f23645"/>
<rect x="520.17" y="276.0" width="3.6" height="13.0" fill="#f23645"/>
<rect x="525.36" y="280.0" width="1" height="13.6" fill="#089981"/>
<rect x="524.06" y="286.0" width="3.6" height="3.6" fill="#089981"/>
<rect x="529.25" y="282.0" width="1" height="10.4" fill="#f23645"/>
<rect x="527.95" y="286.0" width="3.6" height="1.6" fill="#f23645"/>
<rect x="533.14" y="278.0" width="1" height="13.6" fill="#089981"/>
<rect x="531.84" y="279.6" width="3.6" height="8.0" fill="#089981"/>
<rect x="537.03" y="274.0" width="1" height="8.4" fill="#089981"/>
<rect x="535.73" y="278.6" width="3.6" height="1.4" fill="#089981"/>
<rect x="540.92" y="267.0" width="1" height="12.6" fill="#089981"/>
<rect x="539.62" y="268.4" width="3.6" height="10.6" fill="#089981"/>
<rect x="544.81" y="267.0" width="1" height="7.0" fill="#f23645"/>
<rect x="543.51" y="268.4" width="3.6" height="2.0" fill="#f23645"/>
<rect x="548.70" y="261.0" width="1" height="11.4" fill="#089981"/>
<rect x="547.40" y="269.4" width="3.6" height="2.0" fill="#089981"/>
<rect x="552.59" y="259.6" width="1" height="19.4" fill="#089981"/>
<rect x="551.29" y="265.0" width="3.6" height="5.0" fill="#089981"/>
<rect x="556.48" y="263.0" width="1" height="16.0" fill="#f23645"/>
<rect x="555.18" y="265.0" width="3.6" height="5.6" fill="#f23645"/>
<rect x="560.37" y="255.6" width="1" height="18.0" fill="#089981"/>
<rect x="559.07" y="258.6" width="3.6" height="12.0" fill="#089981"/>
<rect x="564.26" y="225.6" width="1" height="34.0" fill="#089981"/>
<rect x="562.96" y="238.0" width="3.6" height="21.0" fill="#089981"/>
<rect x="568.15" y="223.6" width="1" height="22.4" fill="#089981"/>
<rect x="566.85" y="236.0" width="3.6" height="2.4" fill="#089981"/>
<rect x="572.04" y="235.6" width="1" height="21.4" fill="#f23645"/>
<rect x="570.74" y="236.6" width="3.6" height="12.4" fill="#f23645"/>
<rect x="575.93" y="239.0" width="1" height="12.6" fill="#089981"/>
<rect x="574.63" y="243.0" width="3.6" height="6.6" fill="#089981"/>
<rect x="579.82" y="233.6" width="1" height="11.4" fill="#089981"/>
<rect x="578.52" y="238.0" width="3.6" height="5.6" fill="#089981"/>
<rect x="583.71" y="227.6" width="1" height="26.0" fill="#089981"/>
<rect x="582.41" y="238.0" width="3.6" height="1.0" fill="#089981"/>
<rect x="587.60" y="237.6" width="1" height="26.0" fill="#f23645"/>
<rect x="586.30" y="238.6" width="3.6" height="11.4" fill="#f23645"/>
<rect x="591.49" y="248.0" width="1" height="12.4" fill="#f23645"/>
<rect x="590.19" y="249.6" width="3.6" height="8.4" fill="#f23645"/>
<rect x="595.38" y="254.0" width="1" height="15.6" fill="#f23645"/>
<rect x="594.08" y="255.0" width="3.6" height="8.6" fill="#f23645"/>
<rect x="599.27" y="251.0" width="1" height="13.0" fill="#089981"/>
<rect x="597.98" y="253.6" width="3.6" height="10.0" fill="#089981"/>
<rect x="603.17" y="252.0" width="1" height="6.0" fill="#f23645"/>
<rect x="601.87" y="253.6" width="3.6" height="2.8" fill="#f23645"/>
<rect x="607.06" y="246.0" width="1" height="21.0" fill="#089981"/>
<rect x="605.76" y="248.0" width="3.6" height="8.0" fill="#089981"/>
<rect x="610.95" y="208.4" width="1" height="41.6" fill="#089981"/>
<rect x="609.65" y="218.0" width="3.6" height="31.0" fill="#089981"/>
<rect x="614.84" y="200.0" width="1" height="69.6" fill="#f23645"/>
<rect x="613.54" y="218.0" width="3.6" height="10.0" fill="#f23645"/>
<rect x="618.73" y="184.0" width="1" height="48.0" fill="#089981"/>
<rect x="617.43" y="217.0" width="3.6" height="11.0" fill="#089981"/>
<rect x="622.62" y="203.0" width="1" height="17.0" fill="#089981"/>
<rect x="621.32" y="204.4" width="3.6" height="13.6" fill="#089981"/>
<rect x="626.51" y="162.4" width="1" height="43.6" fill="#089981"/>
<rect x="625.21" y="168.0" width="3.6" height="37.0" fill="#089981"/>
<rect x="630.40" y="167.0" width="1" height="49.0" fill="#f23645"/>
<rect x="629.10" y="168.0" width="3.6" height="16.0" fill="#f23645"/>
<rect x="634.29" y="149.6" width="1" height="42.4" fill="#089981"/>
<rect x="632.99" y="165.0" width="3.6" height="19.0" fill="#089981"/>
<rect x="638.18" y="147.0" width="1" height="116.0" fill="#f23645"/>
<rect x="636.88" y="165.0" width="3.6" height="48.6" fill="#f23645"/>
<rect x="642.07" y="186.0" width="1" height="40.0" fill="#089981"/>
<rect x="640.77" y="195.0" width="3.6" height="18.6" fill="#089981"/>
<rect x="645.96" y="172.0" width="1" height="28.0" fill="#089981"/>
<rect x="644.66" y="182.4" width="3.6" height="13.6" fill="#089981"/>
<rect x="649.85" y="177.6" width="1" height="27.4" fill="#f23645"/>
<rect x="648.55" y="182.4" width="3.6" height="6.6" fill="#f23645"/>
<rect x="653.74" y="178.0" width="1" height="13.0" fill="#089981"/>
<rect x="652.44" y="188.0" width="3.6" height="1.6" fill="#089981"/>
<rect x="657.63" y="182.4" width="1" height="26.6" fill="#f23645"/>
<rect x="656.33" y="188.6" width="3.6" height="11.4" fill="#f23645"/>
<rect x="661.52" y="83.0" width="1" height="136.6" fill="#089981"/>
<rect x="660.22" y="101.0" width="3.6" height="99.0" fill="#089981"/>
<rect x="665.41" y="92.4" width="1" height="63.6" fill="#f23645"/>
<rect x="664.11" y="102.0" width="3.6" height="30.0" fill="#f23645"/>
<rect x="669.30" y="119.0" width="1" height="29.0" fill="#089981"/>
<rect x="668.00" y="131.0" width="3.6" height="1.0" fill="#089981"/>
<rect x="673.19" y="115.0" width="1" height="59.0" fill="#f23645"/>
<rect x="671.89" y="130.0" width="3.6" height="18.0" fill="#f23645"/>
<rect x="677.09" y="143.0" width="1" height="67.0" fill="#f23645"/>
<rect x="675.79" y="148.0" width="3.6" height="30.0" fill="#f23645"/>
<rect x="680.98" y="166.0" width="1" height="44.0" fill="#f23645"/>
<rect x="679.68" y="177.6" width="3.6" height="27.4" fill="#f23645"/>
<rect x="684.87" y="185.0" width="1" height="30.0" fill="#089981"/>
<rect x="683.57" y="190.0" width="3.6" height="15.0" fill="#089981"/>
<rect x="688.76" y="148.0" width="1" height="60.0" fill="#089981"/>
<rect x="687.46" y="167.6" width="3.6" height="23.4" fill="#089981"/>
<rect x="692.65" y="165.0" width="1" height="55.0" fill="#f23645"/>
<rect x="691.35" y="167.6" width="3.6" height="50.4" fill="#f23645"/>
<rect x="696.54" y="189.6" width="1" height="40.4" fill="#089981"/>
<rect x="695.24" y="197.0" width="3.6" height="21.0" fill="#089981"/>
<rect x="700.43" y="160.0" width="1" height="46.4" fill="#089981"/>
<rect x="699.13" y="172.0" width="3.6" height="26.0" fill="#089981"/>
<rect x="704.32" y="168.0" width="1" height="39.0" fill="#f23645"/>
<rect x="703.02" y="172.0" width="3.6" height="25.0" fill="#f23645"/>
<rect x="708.21" y="179.0" width="1" height="24.0" fill="#089981"/>
<rect x="706.91" y="192.0" width="3.6" height="5.0" fill="#089981"/>
<rect x="712.10" y="176.0" width="1" height="19.0" fill="#089981"/>
<rect x="710.80" y="179.0" width="3.6" height="14.0" fill="#089981"/>
<rect x="715.99" y="153.0" width="1" height="31.0" fill="#089981"/>
<rect x="714.69" y="172.0" width="3.6" height="7.6" fill="#089981"/>
<rect x="719.88" y="161.0" width="1" height="23.0" fill="#f23645"/>
<rect x="718.58" y="172.0" width="3.6" height="8.0" fill="#f23645"/>
<rect x="723.77" y="177.6" width="1" height="24.4" fill="#f23645"/>
<rect x="722.47" y="179.6" width="3.6" height="18.0" fill="#f23645"/>
<rect x="727.66" y="175.0" width="1" height="28.6" fill="#089981"/>
<rect x="726.36" y="185.0" width="3.6" height="13.0" fill="#089981"/>
<rect x="731.55" y="167.6" width="1" height="30.4" fill="#089981"/>
<rect x="730.25" y="180.0" width="3.6" height="5.6" fill="#089981"/>
<rect x="735.44" y="175.0" width="1" height="16.6" fill="#f23645"/>
<rect x="734.14" y="181.0" width="3.6" height="7.0" fill="#f23645"/>
<rect x="739.33" y="181.0" width="1" height="8.6" fill="#089981"/>
<rect x="738.03" y="182.0" width="3.6" height="7.0" fill="#089981"/>
<rect x="743.22" y="178.0" width="1" height="32.0" fill="#f23645"/>
<rect x="741.92" y="182.4" width="3.6" height="15.2" fill="#f23645"/>
<rect x="747.11" y="191.0" width="1" height="32.6" fill="#f23645"/>
<rect x="745.81" y="197.0" width="3.6" height="22.0" fill="#f23645"/>
<rect x="751.00" y="212.0" width="1" height="21.6" fill="#f23645"/>
<rect x="749.70" y="219.0" width="3.6" height="10.0" fill="#f23645"/>
<rect x="754.89" y="192.0" width="1" height="46.4" fill="#089981"/>
<rect x="753.60" y="212.0" width="3.6" height="17.6" fill="#089981"/>
<rect x="758.79" y="210.0" width="1" height="22.4" fill="#f23645"/>
<rect x="757.49" y="212.0" width="3.6" height="6.4" fill="#f23645"/>
<rect x="762.68" y="207.0" width="1" height="12.0" fill="#089981"/>
<rect x="761.38" y="212.4" width="3.6" height="6.0" fill="#089981"/>
<rect x="766.57" y="206.0" width="1" height="9.6" fill="#089981"/>
<rect x="765.27" y="211.6" width="3.6" height="1.4" fill="#089981"/>
<rect x="770.46" y="184.0" width="1" height="32.0" fill="#089981"/>
<rect x="769.16" y="194.0" width="3.6" height="18.0" fill="#089981"/>
<rect x="774.35" y="170.4" width="1" height="33.6" fill="#f23645"/>
<rect x="773.05" y="193.6" width="3.6" height="2.4" fill="#f23645"/>
<rect x="778.24" y="189.0" width="1" height="23.0" fill="#089981"/>
<rect x="776.94" y="192.0" width="3.6" height="4.0" fill="#089981"/>
<rect x="782.13" y="188.0" width="1" height="15.0" fill="#f23645"/>
<rect x="780.83" y="192.0" width="3.6" height="8.0" fill="#f23645"/>
<rect x="786.02" y="193.0" width="1" height="89.0" fill="#f23645"/>
<rect x="784.72" y="199.0" width="3.6" height="52.6" fill="#f23645"/>
<rect x="789.91" y="250.0" width="1" height="105.6" fill="#f23645"/>
<rect x="788.61" y="251.6" width="3.6" height="58.0" fill="#f23645"/>
<rect x="793.80" y="285.0" width="1" height="36.2" fill="#089981"/>
<rect x="792.50" y="288.0" width="3.6" height="21.6" fill="#089981"/>
<rect x="797.69" y="275.6" width="1" height="30.8" fill="#f23645"/>
<rect x="796.39" y="289.0" width="3.6" height="5.0" fill="#f23645"/>
<rect x="801.58" y="289.6" width="1" height="22.0" fill="#089981"/>
<rect x="800.28" y="293.6" width="3.6" height="1.4" fill="#089981"/>
<rect x="805.47" y="284.4" width="1" height="30.8" fill="#f23645"/>
<rect x="804.17" y="294.0" width="3.6" height="2.0" fill="#f23645"/>
<rect x="809.36" y="286.0" width="1" height="17.0" fill="#089981"/>
<rect x="808.06" y="289.0" width="3.6" height="7.0" fill="#089981"/>
<rect x="813.25" y="282.0" width="1" height="37.6" fill="#089981"/>
<rect x="811.95" y="288.6" width="3.6" height="1.0" fill="#089981"/>
<rect x="817.14" y="265.0" width="1" height="27.0" fill="#089981"/>
<rect x="815.84" y="266.0" width="3.6" height="23.0" fill="#089981"/>
<rect x="821.03" y="260.0" width="1" height="15.6" fill="#f23645"/>
<rect x="819.73" y="266.4" width="3.6" height="4.6" fill="#f23645"/>
<rect x="824.92" y="231.0" width="1" height="41.0" fill="#089981"/>
<rect x="823.62" y="244.0" width="3.6" height="27.0" fill="#089981"/>
<rect x="828.81" y="242.4" width="1" height="12.6" fill="#f23645"/>
<rect x="827.51" y="243.0" width="3.6" height="11.0" fill="#f23645"/>
<rect x="832.71" y="247.6" width="1" height="26.0" fill="#f23645"/>
<rect x="831.41" y="253.6" width="3.6" height="15.4" fill="#f23645"/>
<rect x="836.60" y="264.0" width="1" height="15.0" fill="#f23645"/>
<rect x="835.30" y="268.6" width="3.6" height="1.4" fill="#f23645"/>
<rect x="840.49" y="261.0" width="1" height="17.0" fill="#089981"/>
<rect x="839.19" y="269.0" width="3.6" height="1.4" fill="#089981"/>
<rect x="844.38" y="269.0" width="1" height="16.0" fill="#f23645"/>
<rect x="843.08" y="269.6" width="3.6" height="7.4" fill="#f23645"/>
<rect x="848.27" y="270.4" width="1" height="13.6" fill="#f23645"/>
<rect x="846.97" y="277.0" width="3.6" height="6.6" fill="#f23645"/>
<rect x="852.16" y="277.0" width="1" height="15.0" fill="#089981"/>
<rect x="850.86" y="278.0" width="3.6" height="6.0" fill="#089981"/>
<rect x="856.05" y="275.0" width="1" height="26.6" fill="#f23645"/>
<rect x="854.75" y="278.0" width="3.6" height="13.6" fill="#f23645"/>
<rect x="859.94" y="276.0" width="1" height="34.0" fill="#089981"/>
<rect x="858.64" y="277.6" width="3.6" height="14.0" fill="#089981"/>
<rect x="863.83" y="270.4" width="1" height="14.6" fill="#089981"/>
<rect x="862.53" y="276.0" width="3.6" height="2.0" fill="#089981"/>
<rect x="867.72" y="260.0" width="1" height="18.0" fill="#089981"/>
<rect x="866.42" y="264.0" width="3.6" height="12.4" fill="#089981"/>
<rect x="871.61" y="257.0" width="1" height="11.0" fill="#f23645"/>
<rect x="870.31" y="264.4" width="3.6" height="2.6" fill="#f23645"/>
<rect x="875.50" y="263.0" width="1" height="6.6" fill="#f23645"/>
<rect x="874.20" y="265.6" width="3.6" height="2.0" fill="#f23645"/>
<rect x="879.39" y="231.6" width="1" height="38.4" fill="#089981"/>
<rect x="878.09" y="258.0" width="3.6" height="9.0" fill="#089981"/>
<rect x="883.28" y="254.0" width="1" height="18.4" fill="#f23645"/>
<rect x="881.98" y="258.0" width="3.6" height="13.0" fill="#f23645"/>
<rect x="887.17" y="267.0" width="1" height="11.0" fill="#f23645"/>
<rect x="885.87" y="271.0" width="3.6" height="6.0" fill="#f23645"/>
<rect x="891.06" y="271.6" width="1" height="12.4" fill="#089981"/>
<rect x="889.76" y="273.0" width="3.6" height="4.0" fill="#089981"/>
<rect x="894.95" y="273.0" width="1" height="20.6" fill="#f23645"/>
<rect x="893.65" y="274.0" width="3.6" height="15.6" fill="#f23645"/>
<rect x="898.84" y="285.0" width="1" height="6.0" fill="#089981"/>
<rect x="897.54" y="286.0" width="3.6" height="4.0" fill="#089981"/>
<rect x="902.73" y="284.4" width="1" height="10.6" fill="#f23645"/>
<rect x="901.43" y="287.0" width="3.6" height="6.0" fill="#f23645"/>
<rect x="906.62" y="281.0" width="1" height="21.4" fill="#089981"/>
<rect x="905.32" y="287.0" width="3.6" height="5.4" fill="#089981"/>
<rect x="910.51" y="282.0" width="1" height="11.6" fill="#f23645"/>
<rect x="909.22" y="287.0" width="3.6" height="5.0" fill="#f23645"/>
<rect x="914.41" y="274.4" width="1" height="19.2" fill="#089981"/>
<rect x="913.11" y="275.6" width="3.6" height="16.4" fill="#089981"/>
<rect x="918.30" y="272.4" width="1" height="8.6" fill="#f23645"/>
<rect x="917.00" y="275.6" width="3.6" height="4.0" fill="#f23645"/>
<rect x="922.19" y="266.4" width="1" height="13.6" fill="#089981"/>
<rect x="920.89" y="271.6" width="3.6" height="7.4" fill="#089981"/>
<rect x="926.08" y="270.0" width="1" height="5.0" fill="#f23645"/>
<rect x="924.78" y="271.6" width="3.6" height="2.0" fill="#f23645"/>
<rect x="929.97" y="272.0" width="1" height="14.0" fill="#f23645"/>
<rect x="928.67" y="273.0" width="3.6" height="11.4" fill="#f23645"/>
<rect x="933.86" y="258.4" width="1" height="27.6" fill="#089981"/>
<rect x="932.56" y="259.6" width="3.6" height="24.8" fill="#089981"/>
<rect x="937.75" y="243.0" width="1" height="20.0" fill="#f23645"/>
<rect x="936.45" y="259.6" width="3.6" height="2.0" fill="#f23645"/>
<rect x="941.64" y="259.0" width="1" height="14.0" fill="#f23645"/>
<rect x="940.34" y="260.0" width="3.6" height="9.6" fill="#f23645"/>
<rect x="945.53" y="250.4" width="1" height="38.6" fill="#089981"/>
<rect x="944.23" y="267.0" width="3.6" height="2.6" fill="#089981"/>
<rect x="949.42" y="259.6" width="1" height="18.0" fill="#089981"/>
<rect x="948.12" y="261.0" width="3.6" height="7.0" fill="#089981"/>
<rect x="953.31" y="254.4" width="1" height="8.0" fill="#089981"/>
<rect x="952.01" y="256.0" width="3.6" height="5.6" fill="#089981"/>
<rect x="957.20" y="255.0" width="1" height="14.0" fill="#f23645"/>
<rect x="955.90" y="256.4" width="3.6" height="11.6" fill="#f23645"/>
<rect x="961.09" y="257.0" width="1" height="15.0" fill="#089981"/>
<rect x="959.79" y="262.4" width="3.6" height="6.0" fill="#089981"/>
<rect x="964.98" y="261.0" width="1" height="12.0" fill="#f23645"/>
<rect x="963.68" y="262.4" width="3.6" height="5.6" fill="#f23645"/>
<rect x="968.87" y="264.0" width="1" height="11.0" fill="#f23645"/>
<rect x="967.57" y="267.0" width="3.6" height="5.0" fill="#f23645"/>
<rect x="972.76" y="269.6" width="1" height="10.8" fill="#f23645"/>
<rect x="971.46" y="271.6" width="3.6" height="5.4" fill="#f23645"/>
<rect x="976.65" y="270.0" width="1" height="12.0" fill="#f23645"/>
<rect x="975.35" y="276.0" width="3.6" height="1.2" fill="#f23645"/>
<rect x="980.54" y="273.0" width="1" height="4.6" fill="#089981"/>
<rect x="979.24" y="275.0" width="3.6" height="2.0" fill="#089981"/>
<rect x="984.43" y="274.0" width="1" height="10.4" fill="#f23645"/>
<rect x="983.13" y="275.6" width="3.6" height="5.4" fill="#f23645"/>
<rect x="988.33" y="273.0" width="1" height="8.6" fill="#089981"/>
<rect x="987.03" y="275.0" width="3.6" height="6.0" fill="#089981"/>
<rect x="992.22" y="264.4" width="1" height="11.6" fill="#089981"/>
<rect x="990.92" y="270.0" width="3.6" height="5.6" fill="#089981"/>
<rect x="996.11" y="263.6" width="1" height="9.4" fill="#f23645"/>
<rect x="994.81" y="270.0" width="3.6" height="1.6" fill="#f23645"/>
<rect x="1000.00" y="268.0" width="1" height="10.0" fill="#f23645"/>
<rect x="998.70" y="270.0" width="3.6" height="4.0" fill="#f23645"/>
<rect x="1003.89" y="268.0" width="1" height="62.0" fill="#f23645"/>
<rect x="1002.59" y="273.0" width="3.6" height="20.0" fill="#f23645"/>
<rect x="1007.78" y="291.6" width="1" height="8.0" fill="#f23645"/>
<rect x="1006.48" y="292.4" width="3.6" height="5.6" fill="#f23645"/>
<rect x="1011.67" y="292.0" width="1" height="7.0" fill="#089981"/>
<rect x="1010.37" y="293.0" width="3.6" height="5.4" fill="#089981"/>
<rect x="1015.56" y="286.4" width="1" height="10.6" fill="#f23645"/>
<rect x="1014.26" y="293.6" width="3.6" height="2.4" fill="#f23645"/>
<rect x="1019.45" y="293.0" width="1" height="23.0" fill="#f23645"/>
<rect x="1018.15" y="294.0" width="3.6" height="15.0" fill="#f23645"/>
<rect x="1023.34" y="293.0" width="1" height="20.6" fill="#089981"/>
<rect x="1022.04" y="299.0" width="3.6" height="10.0" fill="#089981"/>
<rect x="1027.23" y="298.0" width="1" height="14.4" fill="#f23645"/>
<rect x="1025.93" y="299.0" width="3.6" height="12.6" fill="#f23645"/>
<rect x="1031.12" y="308.0" width="1" height="18.0" fill="#f23645"/>
<rect x="1029.82" y="311.0" width="3.6" height="2.6" fill="#f23645"/>
<rect x="1035.01" y="287.0" width="1" height="27.0" fill="#089981"/>
<rect x="1033.71" y="300.0" width="3.6" height="13.6" fill="#089981"/>
<rect x="1038.90" y="290.0" width="1" height="12.0" fill="#089981"/>
<rect x="1037.60" y="299.6" width="3.6" height="1.4" fill="#089981"/>
<rect x="1042.79" y="274.0" width="1" height="31.0" fill="#089981"/>
<rect x="1041.49" y="287.0" width="3.6" height="13.4" fill="#089981"/>
<rect x="1046.68" y="283.6" width="1" height="33.4" fill="#f23645"/>
<rect x="1045.38" y="287.6" width="3.6" height="12.4" fill="#f23645"/>
<rect x="1050.57" y="292.4" width="1" height="9.6" fill="#089981"/>
<rect x="1049.27" y="297.0" width="3.6" height="3.4" fill="#089981"/>
<rect x="1054.46" y="289.6" width="1" height="13.4" fill="#f23645"/>
<rect x="1053.16" y="297.6" width="3.6" height="4.4" fill="#f23645"/>
<rect x="1058.35" y="294.4" width="1" height="14.0" fill="#089981"/>
<rect x="1057.05" y="301.0" width="3.6" height="1.0" fill="#089981"/>
<rect x="1062.24" y="300.0" width="1" height="5.0" fill="#f23645"/>
<rect x="1060.94" y="301.0" width="3.6" height="2.0" fill="#f23645"/>
<rect x="1066.13" y="301.0" width="1" height="12.6" fill="#f23645"/>
<rect x="1064.84" y="302.4" width="3.6" height="7.6" fill="#f23645"/>
<rect x="1070.03" y="307.0" width="1" height="17.0" fill="#f23645"/>
<rect x="1068.73" y="309.0" width="3.6" height="5.4" fill="#f23645"/>
<rect x="1073.92" y="309.0" width="1" height="6.0" fill="#089981"/>
<rect x="1072.62" y="312.0" width="3.6" height="2.4" fill="#089981"/>
<rect x="1077.81" y="311.0" width="1" height="9.4" fill="#f23645"/>
<rect x="1076.51" y="312.4" width="3.6" height="5.6" fill="#f23645"/>
<rect x="1081.70" y="311.6" width="1" height="8.8" fill="#089981"/>
<rect x="1080.40" y="313.0" width="3.6" height="5.0" fill="#089981"/>
<rect x="1085.59" y="308.0" width="1" height="10.4" fill="#f23645"/>
<rect x="1084.29" y="313.0" width="3.6" height="4.0" fill="#f23645"/>
<rect x="1089.48" y="312.0" width="1" height="5.0" fill="#089981"/>
<rect x="1088.18" y="315.0" width="3.6" height="1.4" fill="#089981"/>
<rect x="1093.37" y="310.0" width="1" height="7.0" fill="#089981"/>
<rect x="1092.07" y="311.0" width="3.6" height="5.0" fill="#089981"/>
<rect x="1097.26" y="305.0" width="1" height="8.0" fill="#089981"/>
<rect x="1095.96" y="310.0" width="3.6" height="1.6" fill="#089981"/>
<rect x="1101.15" y="301.6" width="1" height="10.4" fill="#089981"/>
<rect x="1099.85" y="304.0" width="3.6" height="7.0" fill="#089981"/>
<rect x="1105.04" y="303.0" width="1" height="22.0" fill="#f23645"/>
<rect x="1103.74" y="304.0" width="3.6" height="16.0" fill="#f23645"/>
<rect x="1108.93" y="318.0" width="1" height="32.0" fill="#f23645"/>
<rect x="1107.63" y="319.6" width="3.6" height="30.0" fill="#f23645"/>
<rect x="1112.82" y="348.0" width="1" height="43.0" fill="#f23645"/>
<rect x="1111.52" y="349.0" width="3.6" height="7.0" fill="#f23645"/>
<rect x="1116.71" y="333.6" width="1" height="23.4" fill="#089981"/>
<rect x="1115.41" y="334.4" width="3.6" height="21.6" fill="#089981"/>
<rect x="1120.60" y="333.6" width="1" height="27.4" fill="#f23645"/>
<rect x="1119.30" y="334.4" width="3.6" height="26.0" fill="#f23645"/>
<rect x="1124.49" y="340.0" width="1" height="33.0" fill="#089981"/>
<rect x="1123.19" y="350.0" width="3.6" height="10.4" fill="#089981"/>
<rect x="1128.38" y="344.0" width="1" height="9.6" fill="#089981"/>
<rect x="1127.08" y="347.0" width="3.6" height="4.0" fill="#089981"/>
<rect x="1132.27" y="339.6" width="1" height="9.4" fill="#089981"/>
<rect x="1130.97" y="343.0" width="3.6" height="4.6" fill="#089981"/>
<rect x="1136.16" y="330.4" width="1" height="15.6" fill="#089981"/>
<rect x="1134.86" y="335.0" width="3.6" height="10.0" fill="#089981"/>
<rect x="1140.05" y="312.0" width="1" height="26.4" fill="#089981"/>
<rect x="1138.75" y="313.0" width="3.6" height="22.6" fill="#089981"/>
<rect x="1143.94" y="235.0" width="1" height="79.4" fill="#089981"/>
<rect x="1142.64" y="269.0" width="3.6" height="44.6" fill="#089981"/>
<rect x="1147.84" y="258.0" width="1" height="22.0" fill="#f23645"/>
<rect x="1146.54" y="269.0" width="3.6" height="5.4" fill="#f23645"/>
<rect x="1151.73" y="257.0" width="1" height="17.4" fill="#089981"/>
<rect x="1150.43" y="259.0" width="3.6" height="15.0" fill="#089981"/>
<rect x="1155.62" y="211.0" width="1" height="49.0" fill="#089981"/>
<rect x="1154.32" y="224.0" width="3.6" height="35.6" fill="#089981"/>
<rect x="1159.51" y="174.4" width="1" height="50.6" fill="#089981"/>
<rect x="1158.21" y="185.0" width="3.6" height="39.4" fill="#089981"/>
<rect x="1163.40" y="175.6" width="1" height="66.4" fill="#f23645"/>
<rect x="1162.10" y="183.0" width="3.6" height="50.6" fill="#f23645"/>
<rect x="1167.29" y="218.0" width="1" height="39.0" fill="#089981"/>
<rect x="1165.99" y="228.4" width="3.6" height="5.2" fill="#089981"/>
<rect x="1171.18" y="202.4" width="1" height="27.6" fill="#089981"/>
<rect x="1169.88" y="211.6" width="3.6" height="17.4" fill="#089981"/>
<rect x="1175.07" y="199.6" width="1" height="29.4" fill="#089981"/>
<rect x="1173.77" y="208.4" width="3.6" height="3.6" fill="#089981"/>
<rect x="1178.96" y="187.0" width="1" height="31.0" fill="#089981"/>
<rect x="1177.66" y="200.0" width="3.6" height="8.4" fill="#089981"/>
<rect x="1182.85" y="192.4" width="1" height="30.6" fill="#f23645"/>
<rect x="1181.55" y="199.0" width="3.6" height="10.0" fill="#f23645"/>
<rect x="1186.74" y="179.0" width="1" height="34.6" fill="#089981"/>
<rect x="1185.44" y="191.0" width="3.6" height="18.6" fill="#089981"/>
<rect x="1190.63" y="184.0" width="1" height="35.6" fill="#f23645"/>
<rect x="1189.33" y="191.6" width="3.6" height="16.4" fill="#f23645"/>
<rect x="1194.52" y="198.4" width="1" height="19.6" fill="#089981"/>
<rect x="1193.22" y="203.0" width="3.6" height="6.0" fill="#089981"/>
<rect x="1198.41" y="199.0" width="1" height="20.6" fill="#f23645"/>
<rect x="1197.11" y="203.6" width="3.6" height="7.4" fill="#f23645"/>
<rect x="1202.30" y="193.6" width="1" height="20.0" fill="#089981"/>
<rect x="1201.00" y="205.0" width="3.6" height="6.6" fill="#089981"/>
<rect x="1206.19" y="196.0" width="1" height="17.6" fill="#089981"/>
<rect x="1204.89" y="205.0" width="3.6" height="1.0" fill="#089981"/>
<rect x="1210.08" y="174.4" width="1" height="35.6" fill="#089981"/>
<rect x="1208.78" y="182.4" width="3.6" height="23.2" fill="#089981"/>
<rect x="1213.97" y="157.0" width="1" height="31.0" fill="#f23645"/>
<rect x="1212.67" y="182.4" width="3.6" height="4.6" fill="#f23645"/>
<rect x="1217.86" y="181.0" width="1" height="53.0" fill="#f23645"/>
<rect x="1216.56" y="186.4" width="3.6" height="24.0" fill="#f23645"/>
<rect x="1221.76" y="209.0" width="1" height="43.0" fill="#f23645"/>
<rect x="1220.46" y="209.6" width="3.6" height="31.4" fill="#f23645"/>
<rect x="1225.65" y="225.0" width="1" height="31.0" fill="#f23645"/>
<rect x="1224.35" y="240.4" width="3.6" height="4.6" fill="#f23645"/>
<rect x="1229.54" y="241.0" width="1" height="38.6" fill="#f23645"/>
<rect x="1228.24" y="244.4" width="3.6" height="28.6" fill="#f23645"/>
<rect x="1233.43" y="270.0" width="1" height="79.6" fill="#f23645"/>
<rect x="1232.13" y="273.0" width="3.6" height="28.6" fill="#f23645"/>
<rect x="1237.32" y="274.4" width="1" height="28.2" fill="#089981"/>
<rect x="1236.02" y="286.4" width="3.6" height="15.6" fill="#089981"/>
<rect x="1241.21" y="169.6" width="1" height="127.0" fill="#089981"/>
<rect x="1239.91" y="207.0" width="3.6" height="79.4" fill="#089981"/>
<rect x="1245.10" y="170.0" width="1" height="38.0" fill="#089981"/>
<rect x="1243.80" y="191.6" width="3.6" height="15.4" fill="#089981"/>
<rect x="1248.99" y="186.0" width="1" height="39.0" fill="#f23645"/>
<rect x="1247.69" y="191.0" width="3.6" height="32.6" fill="#f23645"/>
<rect x="1252.88" y="205.0" width="1" height="20.0" fill="#089981"/>
<rect x="1251.58" y="219.0" width="3.6" height="5.0" fill="#089981"/>
<rect x="1256.77" y="212.0" width="1" height="40.0" fill="#f23645"/>
<rect x="1255.47" y="220.0" width="3.6" height="28.0" fill="#f23645"/>
<rect x="1260.66" y="223.6" width="1" height="25.4" fill="#089981"/>
<rect x="1259.36" y="231.6" width="3.6" height="16.4" fill="#089981"/>
<rect x="1264.55" y="220.0" width="1" height="17.0" fill="#089981"/>
<rect x="1263.25" y="226.4" width="3.6" height="6.6" fill="#089981"/>
<rect x="1268.44" y="220.0" width="1" height="15.0" fill="#f23645"/>
<rect x="1267.14" y="225.6" width="3.6" height="8.4" fill="#f23645"/>
<rect x="1272.33" y="228.0" width="1" height="19.6" fill="#f23645"/>
<rect x="1271.03" y="233.0" width="3.6" height="8.0" fill="#f23645"/>
<rect x="1276.22" y="232.0" width="1" height="13.0" fill="#089981"/>
<rect x="1274.92" y="237.0" width="3.6" height="4.0" fill="#089981"/>
<rect x="1280.11" y="231.0" width="1" height="9.0" fill="#089981"/>
<rect x="1278.81" y="235.0" width="3.6" height="3.0" fill="#089981"/>
<rect x="1284.00" y="219.0" width="1" height="20.0" fill="#f23645"/>
<rect x="1282.70" y="235.0" width="3.6" height="3.4" fill="#f23645"/>
<rect x="1287.89" y="198.4" width="1" height="41.2" fill="#089981"/>
<rect x="1286.59" y="207.6" width="3.6" height="30.8" fill="#089981"/>
<rect x="1291.78" y="194.0" width="1" height="22.4" fill="#f23645"/>
<rect x="1290.48" y="208.0" width="3.6" height="4.4" fill="#f23645"/>
<rect x="1295.67" y="201.6" width="1" height="17.4" fill="#089981"/>
<rect x="1294.37" y="206.0" width="3.6" height="6.4" fill="#089981"/>
<rect x="1299.57" y="201.6" width="1" height="12.0" fill="#f23645"/>
<rect x="1298.27" y="206.4" width="3.6" height="2.6" fill="#f23645"/>
<rect x="1303.46" y="193.0" width="1" height="20.6" fill="#089981"/>
<rect x="1302.16" y="197.0" width="3.6" height="12.0" fill="#089981"/>
<rect x="1307.35" y="180.0" width="1" height="22.0" fill="#089981"/>
<rect x="1306.05" y="195.6" width="3.6" height="2.0" fill="#089981"/>
<rect x="1311.24" y="194.4" width="1" height="15.2" fill="#f23645"/>
<rect x="1309.94" y="195.6" width="3.6" height="10.8" fill="#f23645"/>
<rect x="1315.13" y="205.0" width="1" height="18.0" fill="#f23645"/>
<rect x="1313.83" y="206.4" width="3.6" height="11.2" fill="#f23645"/>
<rect x="1319.02" y="206.0" width="1" height="39.0" fill="#f23645"/>
<rect x="1317.72" y="217.0" width="3.6" height="18.0" fill="#f23645"/>
<rect x="1322.91" y="220.0" width="1" height="23.6" fill="#089981"/>
<rect x="1321.61" y="233.0" width="3.6" height="2.6" fill="#089981"/>
<rect x="1326.80" y="226.4" width="1" height="15.2" fill="#f23645"/>
<rect x="1325.50" y="233.0" width="3.6" height="6.6" fill="#f23645"/>
<rect x="1330.69" y="233.0" width="1" height="19.0" fill="#089981"/>
<rect x="1329.39" y="235.0" width="3.6" height="4.6" fill="#089981"/>
<rect x="1334.58" y="231.0" width="1" height="6.4" fill="#089981"/>
<rect x="1333.28" y="233.8" width="3.6" height="2.0" fill="#089981"/>
</g>
<g clip-path="url(#cr)">
<path d="M140.7,476.5L140.7,476.5L144.6,474.9L144.6,476.5ZM144.6,476.5L144.6,474.9L148.5,466.4L148.5,476.5ZM148.5,476.5L148.5,466.4L152.4,463.1L152.4,476.5ZM152.4,476.5L152.4,463.1L156.3,468.5L156.3,476.5ZM156.3,476.5L156.3,468.5L160.1,465.3L160.1,476.5ZM160.1,476.5L160.1,465.3L164.0,463.9L164.0,476.5ZM164.0,476.5L164.0,463.9L167.9,450.3L167.9,476.5ZM167.9,476.5L167.9,450.3L171.8,441.1L171.8,476.5ZM171.8,476.5L171.8,441.1L175.7,465.3L175.7,476.5ZM175.7,476.5L175.7,465.3L179.6,464.7L179.6,476.5ZM179.6,476.5L179.6,464.7L183.5,476.5L183.5,476.5ZM623.1,476.5L623.1,476.5L627.0,467.0L627.0,476.5ZM627.0,476.5L627.0,467.0L630.9,476.5L630.9,476.5ZM630.9,476.5L630.9,476.5L634.8,474.6L634.8,476.5ZM634.8,476.5L634.8,474.6L638.7,476.5L638.7,476.5ZM658.1,476.5L658.1,476.5L662.0,473.3L662.0,476.5ZM662.0,476.5L662.0,473.3L665.9,476.5L665.9,476.5ZM1152.2,476.5L1152.2,476.5L1156.1,471.0L1156.1,476.5ZM1156.1,476.5L1156.1,471.0L1160.0,460.9L1160.0,476.5ZM1160.0,476.5L1160.0,460.9L1163.9,476.5L1163.9,476.5Z" fill="url(#ob)" opacity="0.85"/>
<polyline points="16.2,528.9 20.1,515.5 24.0,504.1 27.9,512.5 31.8,501.9 35.7,516.4 39.5,495.2 43.4,501.9 47.3,511.2 51.2,508.2 55.1,512.5 59.0,516.1 62.9,528.2 66.8,533.2 70.7,538.7 74.6,543.0 78.4,539.1 82.3,537.7 86.2,535.7 90.1,524.7 94.0,531.7 97.9,534.2 101.8,503.2 105.7,507.8 109.6,503.5 113.5,501.3 117.4,485.0 121.2,478.6 125.1,484.1 129.0,485.2 132.9,497.3 136.8,495.6 140.7,487.9 144.6,474.9 148.5,466.4 152.4,463.1 156.3,468.5 160.1,465.3 164.0,463.9 167.9,450.3 171.8,441.1 175.7,465.3 179.6,464.7 183.5,480.3 187.4,484.5 191.3,483.7 195.2,483.3 199.1,480.3 202.9,508.8 206.8,499.6 210.7,519.2 214.6,518.1 218.5,520.1 222.4,511.6 226.3,519.2 230.2,534.1 234.1,518.2 238.0,514.1 241.8,513.3 245.7,512.8 249.6,516.9 253.5,523.6 257.4,518.9 261.3,520.2 265.2,521.6 269.1,517.4 273.0,511.9 276.9,510.4 280.8,510.4 284.6,513.6 288.5,499.9 292.4,498.4 296.3,482.6 300.2,495.1 304.1,493.3 308.0,522.6 311.9,521.2 315.8,516.7 319.7,514.1 323.5,525.6 327.4,521.4 331.3,528.3 335.2,524.9 339.1,530.7 343.0,521.1 346.9,516.1 350.8,515.3 354.7,519.8 358.6,525.0 362.5,501.2 366.3,519.1 370.2,510.5 374.1,510.1 378.0,518.7 381.9,519.9 385.8,524.6 389.7,513.4 393.6,517.5 397.5,541.2 401.4,537.3 405.2,542.7 409.1,546.4 413.0,553.8 416.9,533.0 420.8,538.4 424.7,518.6 428.6,518.0 432.5,533.2 436.4,530.4 440.3,530.0 444.2,530.7 448.0,529.4 451.9,534.0 455.8,542.8 459.7,546.1 463.6,537.9 467.5,542.2 471.4,551.2 475.3,554.9 479.2,553.9 483.1,556.5 487.0,538.5 490.8,539.8 494.7,543.1 498.6,533.7 502.5,547.1 506.4,550.8 510.3,546.9 514.2,543.6 518.1,536.0 522.0,544.9 525.9,541.6 529.7,542.7 533.6,533.4 537.5,532.3 541.4,521.1 545.3,523.0 549.2,521.9 553.1,516.8 557.0,523.1 560.9,509.7 564.8,492.0 568.7,490.6 572.5,505.9 576.4,500.8 580.3,496.7 584.2,496.7 588.1,511.1 592.0,519.5 595.9,525.0 599.8,514.5 603.7,517.5 607.6,509.0 611.4,486.2 615.3,496.9 619.2,489.8 623.1,482.6 627.0,467.0 630.9,482.1 634.8,474.6 638.7,508.8 642.6,500.5 646.5,495.3 650.4,499.5 654.2,499.0 658.1,506.9 662.0,473.3 665.9,489.4 669.8,489.1 673.7,497.6 677.6,511.1 681.5,521.6 685.4,515.8 689.3,507.6 693.1,526.0 697.0,518.4 700.9,510.1 704.8,518.9 708.7,517.1 712.6,512.5 716.5,510.0 720.4,513.4 724.3,520.5 728.2,515.3 732.1,513.3 735.9,516.9 739.8,514.2 743.7,521.6 747.6,530.9 751.5,534.9 755.4,525.7 759.3,528.6 763.2,525.2 767.1,524.8 771.0,514.8 774.8,516.0 778.7,513.6 782.6,518.7 786.5,543.8 790.4,561.3 794.3,549.0 798.2,550.7 802.1,550.5 806.0,551.3 809.9,546.6 813.8,546.3 817.6,531.4 821.5,533.7 825.4,517.9 829.3,523.1 833.2,530.4 837.1,530.8 841.0,530.2 844.9,534.4 848.8,537.9 852.7,533.5 856.5,540.9 860.4,530.0 864.3,528.8 868.2,519.9 872.1,522.0 876.0,522.4 879.9,514.8 883.8,524.7 887.7,528.9 891.6,525.4 895.5,536.8 899.3,533.5 903.2,538.2 907.1,532.3 911.0,535.9 914.9,520.6 918.8,523.8 922.7,516.7 926.6,518.5 930.5,527.7 934.4,507.0 938.2,508.8 942.1,515.8 946.0,513.6 949.9,508.6 953.8,504.5 957.7,516.3 961.6,511.3 965.5,516.7 969.4,520.6 973.3,525.3 977.2,525.5 981.0,522.9 984.9,529.1 988.8,521.7 992.7,515.8 996.6,517.8 1000.5,520.8 1004.4,540.6 1008.3,544.8 1012.2,537.8 1016.1,540.6 1019.9,551.4 1023.8,537.5 1027.7,547.6 1031.6,549.0 1035.5,531.6 1039.4,531.2 1043.3,517.0 1047.2,529.3 1051.1,526.0 1055.0,530.6 1058.9,529.4 1062.7,531.4 1066.6,538.2 1070.5,542.2 1074.4,538.7 1078.3,544.4 1082.2,536.7 1086.1,540.8 1090.0,537.5 1093.9,531.1 1097.8,529.5 1101.6,520.1 1105.5,539.2 1109.4,561.5 1113.3,565.0 1117.2,538.0 1121.1,553.5 1125.0,543.1 1128.9,540.2 1132.8,536.2 1136.7,528.4 1140.6,510.3 1144.4,486.0 1148.3,490.3 1152.2,483.5 1156.1,471.0 1160.0,460.9 1163.9,491.8 1167.8,490.1 1171.7,484.8 1175.6,483.8 1179.5,481.1 1183.3,487.1 1187.2,481.0 1191.1,492.0 1195.0,490.1 1198.9,495.4 1202.8,492.8 1206.7,492.8 1210.6,483.4 1214.5,486.9 1218.4,503.5 1222.3,520.9 1226.1,522.9 1230.0,535.9 1233.9,546.8 1237.8,537.7 1241.7,503.6 1245.6,498.7 1249.5,512.0 1253.4,510.4 1257.3,521.5 1261.2,515.3 1265.1,513.3 1268.9,516.5 1272.8,519.5 1276.7,517.7 1280.6,516.7 1284.5,518.4 1288.4,504.0 1292.3,506.6 1296.2,503.7 1300.1,505.6 1304.0,499.8 1307.8,499.1 1311.7,506.6 1315.6,513.9 1319.5,524.3 1323.4,523.0 1327.3,527.0 1331.2,523.6 1335.1,522.7" fill="none" stroke="#7e57c2" stroke-width="1.6" stroke-linejoin="round"/>
<polyline points="16.2,526.9 20.1,524.9 24.0,522.0 27.9,519.8 31.8,516.8 35.7,514.8 39.5,513.3 43.4,512.3 47.3,512.0 51.2,511.4 55.1,511.2 59.0,511.2 62.9,512.0 66.8,513.3 70.7,514.0 74.6,515.9 78.4,518.4 82.3,520.2 86.2,522.7 90.1,523.3 94.0,525.9 97.9,528.2 101.8,527.6 105.7,527.6 109.6,526.9 113.5,525.9 117.4,522.8 121.2,518.9 125.1,515.0 129.0,510.9 132.9,507.9 136.8,504.9 140.7,501.4 144.6,497.9 148.5,493.2 152.4,488.1 156.3,485.7 160.1,482.6 164.0,479.8 167.9,476.2 171.8,473.0 175.7,472.1 179.6,470.7 183.5,470.3 187.4,469.4 191.3,468.6 195.2,468.2 199.1,468.6 202.9,471.7 206.8,474.3 210.7,477.9 214.6,481.7 218.5,485.7 222.4,490.1 226.3,495.6 230.2,500.5 234.1,504.4 238.0,506.8 241.8,508.8 245.7,510.9 249.6,513.3 253.5,516.4 257.4,517.1 261.3,518.6 265.2,518.8 269.1,518.7 273.0,518.1 276.9,518.0 280.8,517.4 284.6,515.9 288.5,514.6 292.4,513.5 296.3,511.3 300.2,510.1 304.1,508.4 308.0,508.3 311.9,508.5 315.8,508.2 319.7,507.7 323.5,508.3 327.4,508.9 331.3,510.2 335.2,511.3 339.1,512.5 343.0,514.0 346.9,515.3 350.8,517.6 354.7,519.4 358.6,521.6 362.5,520.1 366.3,520.0 370.2,519.5 374.1,519.2 378.0,518.7 381.9,518.6 385.8,518.4 389.7,517.5 393.6,516.6 397.5,518.0 401.4,519.6 405.2,521.5 409.1,523.4 413.0,525.5 416.9,527.7 420.8,529.1 424.7,529.7 428.6,530.3 432.5,531.3 436.4,532.0 440.3,532.4 444.2,533.7 448.0,534.5 451.9,534.0 455.8,534.4 459.7,534.6 463.6,534.0 467.5,533.2 471.4,534.5 475.3,535.7 479.2,538.2 483.1,540.9 487.0,541.3 490.8,542.0 494.7,542.9 498.6,543.1 502.5,544.4 506.4,545.6 510.3,545.9 514.2,545.7 518.1,545.6 522.0,545.8 525.9,545.1 529.7,544.2 533.6,542.8 537.5,541.0 541.4,539.8 545.3,538.6 549.2,537.1 553.1,535.9 557.0,534.1 560.9,531.2 564.8,527.3 568.7,523.5 572.5,521.4 576.4,518.2 580.3,515.0 584.2,511.7 588.1,510.1 592.0,509.2 595.9,509.5 599.8,508.9 603.7,508.6 607.6,508.0 611.4,505.4 615.3,504.5 619.2,504.3 623.1,503.7 627.0,501.0 630.9,499.6 634.8,498.0 638.7,498.9 642.6,498.1 646.5,496.4 650.4,494.6 654.2,493.5 658.1,492.7 662.0,490.2 665.9,490.4 669.8,489.8 673.7,490.4 677.6,492.4 681.5,496.3 685.4,498.7 689.3,501.1 693.1,502.3 697.0,503.6 700.9,504.7 704.8,506.0 708.7,507.3 712.6,507.7 716.5,510.4 720.4,512.1 724.3,514.3 728.2,515.6 732.1,515.7 735.9,515.4 739.8,515.3 743.7,516.3 747.6,516.6 751.5,517.8 755.4,518.9 759.3,519.6 763.2,520.2 767.1,521.1 771.0,521.4 774.8,521.6 778.7,521.1 782.6,521.4 786.5,523.5 790.4,526.7 794.3,529.2 798.2,531.3 802.1,532.7 806.0,533.8 809.9,535.3 813.8,536.6 817.6,537.0 821.5,537.7 825.4,537.9 829.3,538.4 833.2,539.6 837.1,540.5 841.0,539.5 844.9,537.6 848.8,536.8 852.7,535.6 856.5,534.9 860.4,533.4 864.3,532.1 868.2,530.2 872.1,529.5 876.0,528.7 879.9,528.5 883.8,528.6 887.7,528.5 891.6,528.1 895.5,528.6 899.3,528.5 903.2,528.6 907.1,528.5 911.0,528.1 914.9,527.4 918.8,527.1 922.7,526.9 926.6,526.6 930.5,527.0 934.4,526.4 938.2,525.3 942.1,524.4 946.0,523.5 949.9,521.5 953.8,519.4 957.7,517.9 961.6,516.4 965.5,515.0 969.4,515.0 973.3,515.1 977.2,515.7 981.0,516.0 984.9,516.1 988.8,517.2 992.7,517.7 996.6,517.8 1000.5,518.3 1004.4,520.6 1008.3,523.5 1012.2,525.0 1016.1,527.1 1019.9,529.6 1023.8,530.8 1027.7,532.4 1031.6,534.1 1035.5,534.7 1039.4,534.9 1043.3,534.5 1047.2,535.5 1051.1,536.1 1055.0,536.8 1058.9,536.0 1062.7,535.0 1066.6,535.1 1070.5,535.2 1074.4,534.3 1078.3,534.8 1082.2,534.0 1086.1,533.4 1090.0,533.8 1093.9,533.8 1097.8,534.7 1101.6,534.0 1105.5,535.0 1109.4,537.2 1113.3,539.7 1117.2,540.2 1121.1,541.3 1125.0,541.4 1128.9,541.5 1132.8,540.9 1136.7,540.3 1140.6,538.1 1144.4,534.4 1148.3,531.5 1152.2,528.2 1156.1,524.7 1160.0,519.1 1163.9,514.2 1167.8,508.8 1171.7,505.0 1175.6,500.0 1179.5,495.6 1183.3,491.8 1187.2,487.9 1191.1,485.3 1195.0,483.8 1198.9,484.5 1202.8,484.7 1206.7,485.4 1210.6,486.2 1214.5,488.1 1218.4,488.9 1222.3,491.1 1226.1,493.9 1230.0,497.6 1233.9,502.3 1237.8,505.9 1241.7,507.5 1245.6,508.0 1249.5,509.5 1253.4,510.6 1257.3,512.6 1261.2,514.2 1265.1,516.4 1268.9,518.5 1272.8,519.6 1276.7,519.4 1280.6,519.0 1284.5,517.7 1288.4,514.7 1292.3,512.4 1296.2,512.5 1300.1,512.9 1304.0,512.1 1307.8,511.3 1311.7,510.2 1315.6,510.1 1319.5,510.9 1323.4,511.4 1327.3,511.9 1331.2,512.3 1335.1,512.7" fill="none" stroke="#ffeb3b" stroke-width="1.6" stroke-linejoin="round"/>
</g>
<rect x="16" y="423.1" width="1568" height="1.5" fill="#e8e9ef"/>
<rect x="15.5" y="41.5" width="1569" height="580.5" fill="none" stroke="#e8e9ef" stroke-width="1"/>
<g>
<circle cx="1335" cy="403.7" r="14.6" fill="#fff" stroke="#9c27b0" stroke-width="2"/>
<circle cx="1354" cy="403.7" r="15" fill="#fff" stroke="#f23645" stroke-width="2.3"/>
<circle cx="1350.1" cy="403.7" r="15" fill="#fff" stroke="#f23645" stroke-width="2.3"/>
<circle cx="1346.2" cy="403.7" r="15" fill="#fff" stroke="#f23645" stroke-width="2.3"/>
<clipPath id="fl"><circle cx="1346.2" cy="403.7" r="11.5"/></clipPath><g clip-path="url(#fl)">
<rect x="1334.2" y="391.7" width="24" height="24" fill="#fff"/>
<rect x="1333.7" y="392.1" width="25" height="4.6" fill="#f23645"/>
<rect x="1333.7" y="401.1" width="25" height="5.4" fill="#f23645"/>
<rect x="1333.7" y="409.8" width="25" height="5.9" fill="#f23645"/>
<rect x="1333.7" y="391.9" width="15.3" height="14.6" fill="#2f80ed"/>
<circle cx="1337.6" cy="395.3" r="0.95" fill="#fff"/>
<circle cx="1341.8" cy="395.3" r="0.95" fill="#fff"/>
<circle cx="1346.0" cy="395.3" r="0.95" fill="#fff"/>
<circle cx="1337.6" cy="399.4" r="0.95" fill="#fff"/>
<circle cx="1341.8" cy="399.4" r="0.95" fill="#fff"/>
<circle cx="1346.0" cy="399.4" r="0.95" fill="#fff"/>
<circle cx="1337.6" cy="403.5" r="0.95" fill="#fff"/>
<circle cx="1341.8" cy="403.5" r="0.95" fill="#fff"/>
<circle cx="1346.0" cy="403.5" r="0.95" fill="#fff"/>
</g></g>
<text x="16" y="30" font-size="17.5" fill="#131722" text-anchor="start" textLength="139.2" lengthAdjust="spacingAndGlyphs">divyanshiseth357</text>
<text x="161.2" y="30" font-size="17.5" fill="#131722" text-anchor="start" textLength="77.6" lengthAdjust="spacingAndGlyphs">published</text>
<text x="244.8" y="30" font-size="17.5" fill="#131722" text-anchor="start" textLength="18.4" lengthAdjust="spacingAndGlyphs">on</text>
<text x="268.8" y="30" font-size="17.5" fill="#131722" text-anchor="start" textLength="141.2" lengthAdjust="spacingAndGlyphs">TradingView.com,</text>
<text x="417.2" y="30" font-size="17.5" fill="#131722" text-anchor="start" textLength="29.6" lengthAdjust="spacingAndGlyphs">Aug</text>
<text x="453.2" y="30" font-size="17.5" fill="#131722" text-anchor="start" textLength="20" lengthAdjust="spacingAndGlyphs">31,</text>
<text x="482" y="30" font-size="17.5" fill="#131722" text-anchor="start" textLength="39.2" lengthAdjust="spacingAndGlyphs">2024</text>
<text x="528" y="30" font-size="17.5" fill="#131722" text-anchor="start" textLength="42" lengthAdjust="spacingAndGlyphs">11:39</text>
<text x="576.8" y="30" font-size="17.5" fill="#131722" text-anchor="start" textLength="32.4" lengthAdjust="spacingAndGlyphs">UTC</text>
<text x="28" y="71.8" font-size="18" fill="#131722" text-anchor="start" textLength="255.7" lengthAdjust="spacingAndGlyphs">XRP / U.S. Dollar, 1D, BITSTAMP</text>
<text x="293.7" y="71.8" font-size="18" fill="#131722" text-anchor="start">O</text>
<text x="306" y="71.8" font-size="18" fill="#089981" text-anchor="start">0.56640</text>
<text x="381" y="71.8" font-size="18" fill="#131722" text-anchor="start">H</text>
<text x="394" y="71.8" font-size="18" fill="#089981" text-anchor="start">0.57199</text>
<text x="470" y="71.8" font-size="18" fill="#131722" text-anchor="start">L</text>
<text x="479.5" y="71.8" font-size="18" fill="#089981" text-anchor="start">0.56466</text>
<text x="554" y="71.8" font-size="18" fill="#131722" text-anchor="start">C</text>
<text x="566" y="71.8" font-size="18" fill="#089981" text-anchor="start">0.56866</text>
<text x="640.5" y="71.8" font-size="18" fill="#089981" text-anchor="start" textLength="150.5" lengthAdjust="spacingAndGlyphs">+0.00207 (+0.37%)</text>
<text x="28" y="97.6" font-size="18" fill="#131722" text-anchor="start" textLength="37.5" lengthAdjust="spacingAndGlyphs">EMA</text>
<text x="70.7" y="97.6" font-size="18" fill="#131722" text-anchor="start" textLength="123" lengthAdjust="spacingAndGlyphs">20/50/100/200</text>
<text x="203.7" y="97.6" font-size="18" fill="#ff0000" text-anchor="start">0.57812</text>
<text x="278.7" y="97.6" font-size="18" fill="#ff7f00" text-anchor="start">0.56605</text>
<text x="353" y="97.6" font-size="18" fill="#00ffff" text-anchor="start">0.55245</text>
<text x="428.7" y="97.6" font-size="18" fill="#0000ff" text-anchor="start">0.54917</text>
<text x="28" y="455" font-size="18" fill="#131722" text-anchor="start" textLength="114" lengthAdjust="spacingAndGlyphs">RSI (14, close)</text>
<text x="152" y="455" font-size="18" fill="#7e57c2" text-anchor="start">47.47</text>
<text x="207" y="455" font-size="18" fill="#ffeb3b" text-anchor="start">52.43</text>
<text x="262" y="455" font-size="18" fill="#131722" text-anchor="start">∅</text>
<text x="287" y="455" font-size="18" fill="#131722" text-anchor="start">∅</text>
<text x="312" y="455" font-size="18" fill="#131722" text-anchor="start">∅</text>
<text x="337" y="455" font-size="18" fill="#131722" text-anchor="start">∅</text>
<text x="1499.5" y="128.5" font-size="18" fill="#131722" text-anchor="start">0.70000</text>
<text x="1499.5" y="384" font-size="18" fill="#131722" text-anchor="start">0.40000</text>
<text x="1499.5" y="472.5" font-size="18" fill="#131722" text-anchor="start">75.00</text>
<text x="1499.5" y="574.5" font-size="18" fill="#131722" text-anchor="start">25.00</text>
<text x="31" y="607.6" font-size="18" fill="#131722" text-anchor="middle">Oct</text>
<text x="171" y="607.6" font-size="18" fill="#131722" text-anchor="middle">6</text>
<text x="388" y="607.6" font-size="18" fill="#131722" text-anchor="middle" font-weight="bold">2024</text>
<text x="623" y="607.6" font-size="18" fill="#131722" text-anchor="middle">Mar</text>
<text x="860" y="607.6" font-size="18" fill="#131722" text-anchor="middle">May</text>
<text x="1098" y="607.6" font-size="18" fill="#131722" text-anchor="middle">Jul</text>
<text x="1338" y="607.6" font-size="18" fill="#131722" text-anchor="middle">Sep</text>
<text x="1478" y="607.6" font-size="18" fill="#131722" text-anchor="middle">7</text>
<text x="51.6" y="655.6" font-size="18.5" fill="#131722" text-anchor="start" textLength="106.3" lengthAdjust="spacingAndGlyphs">TradingView</text>
<rect x="1486" y="195" width="86" height="26.5" rx="2.5" fill="#ff0000"/>
<rect x="1486" y="269" width="86" height="24.5" rx="2.5" fill="#ff7f00"/>
<rect x="1486" y="293" width="86" height="25.5" rx="2.5" fill="#00ffff"/>
<rect x="1486" y="318" width="86" height="27" rx="2.5" fill="#0000ff"/>
<rect x="1486" y="221" width="91" height="48" rx="2.5" fill="#089981"/>
<rect x="1403" y="221" width="82.5" height="26" rx="2.5" fill="#089981"/>
<rect x="1486" y="484" width="66.5" height="26.5" rx="2.5" fill="#ffeb3b"/>
<rect x="1486" y="510" width="66.5" height="26.5" rx="2.5" fill="#7e57c2"/>
<text x="1499.5" y="214.5" font-size="18" fill="#fff" text-anchor="start">0.57812</text>
<text x="1499.5" y="240.5" font-size="18" fill="#fff" text-anchor="start">0.56866</text>
<text x="1499.5" y="263" font-size="18" fill="#fff" text-anchor="start" textLength="69.3" lengthAdjust="spacingAndGlyphs" fill-opacity="0.75">12:20:05</text>
<text x="1411" y="240.5" font-size="18" fill="#fff" text-anchor="start" textLength="66.9" lengthAdjust="spacingAndGlyphs">XRPUSD</text>
<text x="1499.5" y="287.5" font-size="18" fill="#fff" text-anchor="start">0.56605</text>
<text x="1499.5" y="312" font-size="18" fill="#131722" text-anchor="start">0.55245</text>
<text x="1499.5" y="338" font-size="18" fill="#fff" text-anchor="start">0.54917</text>
<text x="1499.5" y="503.5" font-size="18" fill="#131722" text-anchor="start">52.43</text>
<text x="1499.5" y="529.5" font-size="18" fill="#fff" text-anchor="start">47.47</text>
<path d="M15.6 641.1H27.1V655.2H21.6V646.4H15.6Z" fill="#131722"/>
<circle cx="32.2" cy="643.9" r="3" fill="#131722"/>
<path d="M39 641.1H44.9L39.2 655.2H32.9Z" fill="#131722"/>
</svg></body></html>
